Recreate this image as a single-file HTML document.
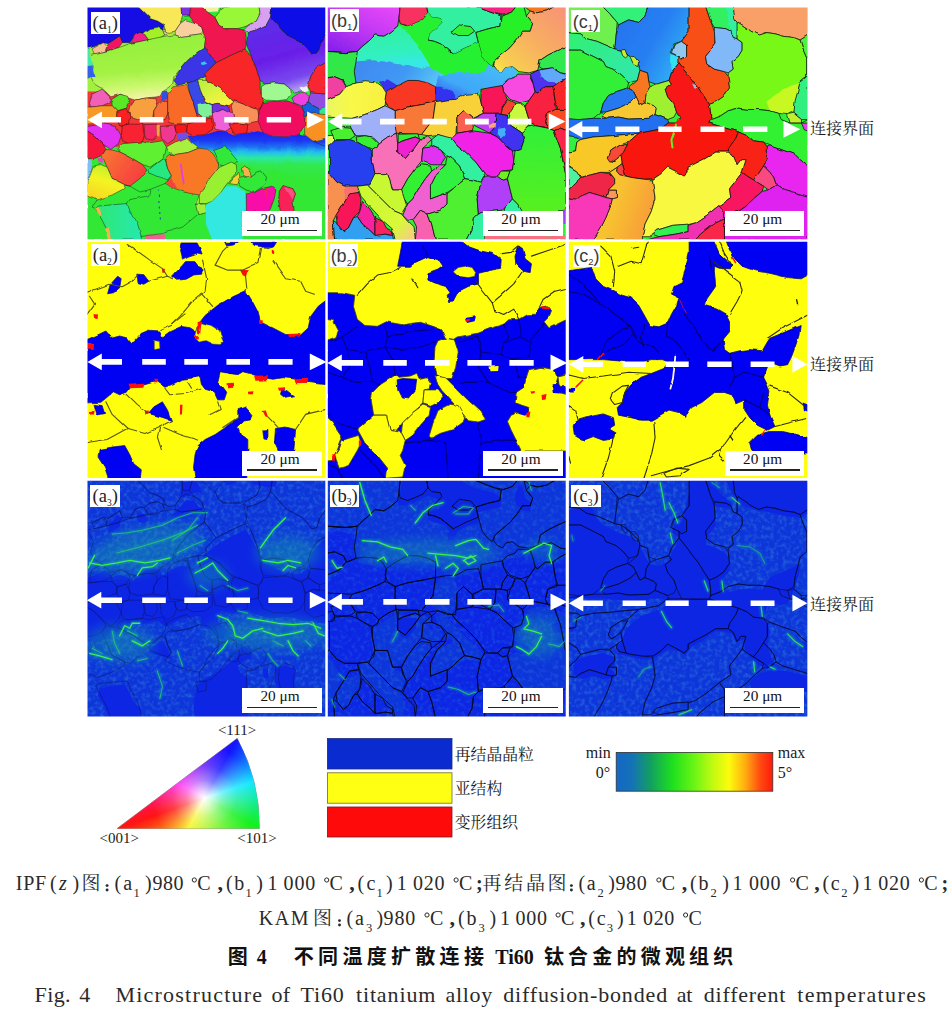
<!DOCTYPE html>
<html lang="zh"><head><meta charset="utf-8"><title>Fig. 4</title>
<style>
html,body{margin:0;padding:0;background:#fff;}
body{width:951px;height:1017px;position:relative;overflow:hidden;font-family:"Liberation Serif",serif;color:#111;}
.p{position:absolute;overflow:hidden;}
.p svg{position:absolute;left:0;top:0;display:block;}
.lb{position:absolute;background:#fff;color:#222;font-size:18.5px;line-height:22px;height:22px;text-align:center;white-space:nowrap;}
.lb sub{font-size:9.5px;vertical-align:baseline;position:relative;top:3.6px;line-height:0;}
.ss{font-family:"Liberation Sans",sans-serif;font-size:18px;color:#3a3a3a;}
.sb{position:absolute;background:#fff;width:79.3px;height:24.8px;box-sizing:border-box;padding-right:4px;font-size:15.3px;line-height:15.4px;text-align:center;color:#111;}
.sb i{position:absolute;left:4.8px;right:4.6px;top:18.7px;height:1.5px;background:#222;}
.t{position:absolute;white-space:nowrap;color:#1a1a1a;}
.ov{position:absolute;left:0;top:0;}
</style></head><body>
<div class="p" style="left:87px;top:6px;width:239px;height:234px"><svg width="239" height="234" viewBox="0 0 951 931" preserveAspectRatio="none"><defs><filter id="bla1" x="-2%" y="-2%" width="104%" height="104%"><feTurbulence type="fractalNoise" baseFrequency="0.022" numOctaves="2" seed="7" result="t"/><feDisplacementMap in="SourceGraphic" in2="t" scale="12" xChannelSelector="R" yChannelSelector="G" result="d"/><feGaussianBlur in="d" stdDeviation="1.5"/></filter><clipPath id="cpa1"><rect x="2.0" y="5.6" width="946.2" height="922.4"/></clipPath></defs><g clip-path="url(#cpa1)"><g filter="url(#bla1)"><defs>
<linearGradient id="a1band" x1="0" x2="0" y1="0" y2="1"><stop offset="0" stop-color="#1c1cf0"/><stop offset="0.2" stop-color="#1a38f2"/><stop offset="0.33" stop-color="#1e70f2"/><stop offset="0.45" stop-color="#22c0ec"/><stop offset="0.56" stop-color="#2ce8a0"/><stop offset="0.7" stop-color="#30e850"/><stop offset="1" stop-color="#30e834"/></linearGradient>
<linearGradient id="a1pur" x1="0.2" x2="0.5" y1="0" y2="1"><stop offset="0" stop-color="#5a30ea"/><stop offset="0.55" stop-color="#6a1ee8"/><stop offset="0.85" stop-color="#7848ee"/><stop offset="1" stop-color="#b098f4"/></linearGradient>
<linearGradient id="a1lg" x1="0" x2="0.15" y1="0" y2="1"><stop offset="0" stop-color="#90f038"/><stop offset="0.6" stop-color="#a4f244"/><stop offset="0.85" stop-color="#ccf870"/><stop offset="1" stop-color="#f0f4a0"/></linearGradient>
<linearGradient id="a1yl" x1="0.6" x2="0.2" y1="0" y2="1"><stop offset="0" stop-color="#b8f030"/><stop offset="0.45" stop-color="#f4f420"/><stop offset="1" stop-color="#f8d420"/></linearGradient>
<linearGradient id="a1or" x1="0" x2="1" y1="0" y2="0.6"><stop offset="0" stop-color="#f87a30"/><stop offset="1" stop-color="#f83c40"/></linearGradient>
<linearGradient id="a1yg" x1="0" x2="0.4" y1="0" y2="1"><stop offset="0" stop-color="#b8f040"/><stop offset="1" stop-color="#f4f440"/></linearGradient>
<linearGradient id="a1tl" x1="0" x2="1" y1="0" y2="0"><stop offset="0" stop-color="#30e870"/><stop offset="1" stop-color="#26e8b0"/></linearGradient>
</defs>
<rect width="951" height="931" fill="#30e834"/>
<rect x="0" y="330" width="700" height="230" fill="#f03838"/>
<rect x="0" y="100" width="480" height="240" fill="#a0f040"/>
<g stroke="#101010" stroke-opacity="0.6" stroke-width="3" stroke-linejoin="round">
<path fill="#1410e4" d="M0 0 L200 0 L221 20 L251 50 L281 60 L306 75 L301 95 L281 85 L251 90 L226 108 L211 105 L191 115 L171 146 L141 146 L130 120 L85 150 L65 146 L30 161 L0 170Z"/>
<path fill="#f8e858" d="M200 0 L378 0 L381 40 L371 70 L351 100 L326 105 L311 95 L306 75 L281 60 L251 50 L221 20Z"/>
<path fill="#8030e0" d="M378 0 L420 0 L407 40 L381 40Z"/>
<path fill="#f8d0a0" d="M351 100 L371 70 L392 55 L427 65 L457 85 L462 105 L452 115 L376 125 L351 115Z"/>
<path fill="#f8c090" d="M20 171 L65 146 L80 161 L70 181 L30 191Z"/>
<path fill="#f01860" d="M80 161 L85 150 L130 120 L141 146 L125 166 L75 180Z"/>
<path fill="#f0208a" d="M176 143 L191 115 L211 105 L226 108 L246 135 L170 150Z"/>
<path fill="#a4f028" d="M226 108 L251 90 L281 85 L301 95 L309 115 L281 133 L246 135Z"/>
<path fill="#f8d0a0" d="M301 95 L311 95 L322 104 L309 115Z"/>
<path fill="url(#a1lg)" d="M0 196 L30 190 L75 180 L125 166 L170 150 L240 135 L310 120 L350 115 L376 125 L452 115 L472 130 L467 165 L437 186 L400 216 L371 251 L346 281 L341 311 L321 326 L296 341 L281 361 L236 366 L190 374 L165 366 L135 351 L95 361 L65 331 L30 311 L15 281 L25 241 L15 221Z"/>
<path fill="#40e8b0" stroke="none" d="M0 168 L10 170 L16 200 L24 236 L8 240 L0 240Z"/>
<path fill="#3060e8" stroke="none" d="M0 240 L22 236 L26 260 L34 282 L16 282 L0 290Z"/>
<path fill="#98f838" d="M509 45 L539 10 L560 0 L684 0 L689 30 L674 60 L639 80 L599 90 L544 90 L524 75Z"/>
<path fill="#f0f0a0" stroke="none" d="M452 0 L540 0 L520 22 L480 24Z"/>
<path fill="#d8a0f0" d="M684 0 L737 0 L730 45 L714 75 L674 95 L639 105 L624 95 L639 80 L674 60 L689 30Z"/>
<path fill="#f01850" d="M420 0 L452 0 L480 24 L509 45 L524 75 L544 90 L599 90 L624 95 L634 151 L629 171 L574 196 L514 226 L494 201 L480 180 L467 165 L472 130 L462 105 L457 85 L427 65 L407 40Z"/>
<path fill="url(#a1pur)" d="M639 105 L674 95 L714 75 L730 45 L755 70 L775 95 L795 115 L825 130 L855 146 L875 166 L895 191 L915 186 L925 150 L951 115 L951 221 L915 241 L890 281 L880 321 L855 341 L825 346 L805 326 L785 311 L745 306 L709 311 L689 301 L674 251 L654 201 L634 151Z"/>
<path fill="#0c0ce8" d="M737 0 L951 0 L951 115 L925 150 L915 186 L895 191 L875 166 L855 146 L825 130 L795 115 L775 95 L755 70 L730 45Z"/>
<path fill="#f82830" d="M951 221 L951 351 L890 346 L880 321 L890 281 L915 241Z"/>
<path fill="#f0f0f8" stroke="none" d="M846 328 L876 318 L882 338 L856 346Z"/>
<path fill="#3a34e6" d="M346 296 L371 251 L402 216 L437 186 L467 166 L480 180 L494 201 L514 226 L473 266 L473 280 L440 296 L400 306 L360 316Z"/>
<path fill="#30c8f0" stroke="none" d="M452 226 L470 220 L474 230 L458 236Z"/>
<path fill="#f82828" d="M473 266 L514 226 L574 196 L629 171 L654 201 L674 251 L689 301 L689 341 L702 377 L694 402 L679 412 L639 397 L599 382 L574 372 L534 331 L504 311 L473 296Z"/>
<path fill="#a0f890" d="M694 321 L709 311 L745 306 L785 311 L805 326 L810 351 L795 372 L755 377 L709 374 L694 361Z"/>
<path fill="#f040e0" d="M815 366 L835 351 L870 346 L885 361 L880 382 L855 397 L825 387Z"/>
<path fill="#9050e0" d="M885 361 L890 346 L951 351 L951 402 L925 410 L900 396 L880 382Z"/>
<path fill="#1860e0" d="M855 397 L880 382 L900 396 L925 410 L925 435 L900 428 L868 442Z"/>
<path fill="#30e890" stroke="none" d="M925 410 L951 402 L951 432 L925 435Z"/>
<path fill="#f060b8" d="M10 387 L20 351 L60 331 L90 361 L93 382 L60 397 L15 402Z"/>
<path fill="#58e828" d="M98 372 L131 351 L161 359 L171 382 L156 407 L120 417 L100 397Z"/>
<path fill="#f89828" d="M0 402 L15 402 L60 397 L100 397 L120 417 L118 442 L60 465 L0 470Z"/>
<path fill="#f82020" d="M118 420 L156 407 L166 430 L171 442 L165 470 L135 480 L118 442Z"/>
<path fill="#f8a040" d="M166 417 L171 397 L191 374 L236 366 L274 369 L281 392 L266 417 L261 447 L201 452 L171 442Z"/>
<path fill="#f87030" d="M281 392 L301 374 L321 382 L321 427 L311 452 L266 447 L266 417Z"/>
<path fill="#3050e0" stroke="none" d="M291 340 L318 336 L321 368 L301 374Z"/>
<path fill="#f86a28" d="M321 351 L346 321 L397 314 L407 341 L422 382 L437 432 L432 465 L380 470 L331 465 L321 427 L321 382Z"/>
<path fill="#3848e8" d="M400 306 L440 296 L452 336 L470 378 L498 392 L498 440 L460 442 L437 432 L422 382 L407 341Z"/>
<path fill="url(#a1yg)" d="M440 296 L473 296 L504 311 L534 331 L574 372 L584 382 L564 397 L524 387 L498 392 L470 378 L452 336Z"/>
<path fill="#80f098" stroke="none" d="M440 390 L470 384 L498 396 L498 440 L460 442 L444 432Z"/>
<path fill="#7030e0" d="M498 392 L524 387 L564 397 L569 432 L540 412 L498 430Z"/>
<path fill="#f89058" d="M574 402 L584 382 L599 382 L639 397 L679 412 L684 440 L680 462 L640 470 L600 465 L582 440Z"/>
<path fill="#f01060" d="M684 417 L702 382 L755 379 L795 377 L825 387 L855 402 L868 442 L866 475 L846 506 L800 521 L740 519 L700 502 L680 462Z"/>
<path fill="#f89020" d="M868 442 L900 428 L951 432 L951 526 L900 538 L866 512 L866 475Z"/>
<path fill="#e030f0" d="M0 480 L60 468 L115 480 L136 516 L126 546 L95 571 L65 551 L30 516 L0 496Z"/>
<path fill="#f82030" d="M141 475 L165 470 L221 470 L228 516 L221 541 L166 548 L141 536 L136 516Z"/>
<path fill="#f02868" d="M226 472 L276 470 L280 512 L262 534 L232 528Z"/>
<path fill="#f8a040" stroke="none" d="M276 474 L290 472 L288 520 L278 516Z"/>
<path fill="#f03890" d="M291 480 L346 473 L356 506 L346 531 L321 548 L296 526Z"/>
<path fill="#f81818" d="M350 475 L380 470 L400 480 L396 506 L366 512 L354 500Z"/>
<path fill="#f82020" d="M400 470 L440 456 L496 446 L500 490 L470 512 L420 516 L396 502Z"/>
<path fill="#f060d8" d="M498 430 L540 412 L582 432 L584 476 L552 498 L510 490Z"/>
<path fill="#f82020" d="M565 472 L600 465 L640 470 L636 505 L590 512Z"/>
<path fill="#7050e8" stroke="none" d="M356 506 L397 502 L400 524 L362 534Z"/>
<path fill="url(#a1band)" stroke="none" d="M400 516 L420 516 L470 512 L520 496 L552 498 L590 512 L636 505 L680 498 L700 502 L740 519 L800 521 L846 506 L866 512 L900 538 L951 526 L951 690 L880 690 L800 670 L740 650 L700 665 L650 640 L600 620 L560 604 L520 588 L480 570 L444 566 L417 546Z"/>
<path fill="#f81838" d="M0 496 L30 516 L65 551 L75 571 L55 596 L20 611 L0 611Z"/>
<path fill="#60f030" d="M120 566 L141 548 L221 541 L241 546 L301 536 L316 561 L311 586 L296 611 L251 641 L221 631 L171 601 L131 581Z"/>
<path fill="#a8f040" d="M316 561 L351 541 L397 526 L417 546 L444 566 L402 583 L351 591 L326 581Z"/>
<path fill="url(#a1or)" d="M60 596 L75 571 L100 573 L131 581 L171 601 L221 631 L241 656 L211 686 L171 717 L151 712 L100 686 L80 641Z"/>
<path fill="#28e880" d="M246 651 L296 611 L311 616 L321 646 L336 676 L321 691 L286 681 L251 666Z"/>
<path fill="#f87828" d="M311 606 L326 591 L351 591 L402 583 L444 566 L480 570 L504 590 L524 631 L520 660 L498 700 L467 727 L447 752 L402 744 L351 727 L311 706 L336 676 L321 646Z"/>
<path fill="#f84040" stroke="none" d="M316 700 L336 682 L356 726 L330 716Z"/>
<path fill="#80c0f0" stroke="none" d="M0 616 L14 618 L20 650 L10 690 L0 690Z"/>
<path fill="url(#a1yl)" d="M10 676 L25 636 L55 631 L80 641 L100 686 L151 712 L146 727 L100 752 L40 772 L0 756 L0 690Z"/>
<path fill="#f040c0" stroke="none" d="M42 606 L62 604 L64 624 L46 626Z"/>
<path fill="#30e838" d="M504 571 L549 556 L574 586 L599 616 L589 626 L544 636 L524 631 L519 596Z"/>
<path fill="#98f030" d="M473 706 L504 666 L529 641 L574 621 L594 631 L596 661 L574 686 L554 711 L529 747 L498 777 L473 787 L447 786 L447 752 L467 727Z"/>
<path fill="#a0f038" d="M432 790 L473 787 L476 822 L442 830Z"/>
<path fill="#f8d030" d="M564 706 L584 681 L604 666 L609 686 L594 711Z"/>
<path fill="#f8b048" d="M614 646 L629 636 L649 661 L654 676 L644 686 L619 671Z"/>
<path fill="#30e838" d="M604 686 L654 676 L674 661 L694 656 L714 681 L709 706 L694 722 L664 742 L634 732 L609 717 L599 701Z"/>
<path fill="#30e8e0" stroke="none" d="M473 792 L498 777 L529 747 L554 717 L594 717 L629 737 L634 812 L619 817 L619 931 L498 931 L473 867Z"/>
<path fill="#f810a8" d="M634 747 L664 744 L694 727 L735 717 L752 732 L745 767 L730 807 L720 820 L634 820Z"/>
<path fill="#f82058" d="M765 737 L780 714 L820 727 L830 747 L820 777 L825 820 L770 820 L762 777Z"/>
<path fill="#f85080" stroke="none" d="M784 718 L818 730 L826 748 L818 770 L800 740Z"/>
<path fill="url(#a1tl)" d="M35 806 L50 796 L100 791 L161 786 L171 816 L201 866 L216 917 L216 931 L95 931 L80 892 L60 852 L45 826Z"/>
<path fill="#f8b050" stroke="none" d="M35 806 L50 800 L58 834 L46 836Z M72 886 L86 880 L96 926 L82 926Z"/>
<path fill="#a0f038" d="M430 782 L444 786 L447 752 L467 727Z" stroke="none"/>
<path fill="#f06090" stroke="none" d="M236 910 L311 908 L311 931 L236 931Z"/>
</g>
<path fill="none" stroke="#e040e0" stroke-width="7" stroke-linecap="round" stroke-linejoin="round" d="M374 634 L378 670 L386 708"/>
<path fill="#f82060" d="M704 728 L722 722 L716 760Z"/>
<path fill="none" stroke="#2040c0" stroke-width="4" stroke-dasharray="8 14" d="M282 732 L292 850"/>
<g fill="none" stroke="#101010" stroke-opacity="0.55" stroke-width="3" stroke-linecap="round" stroke-linejoin="round">
<path d="M151 712 L171 717 L211 740 L251 730 L311 706"/><path d="M161 786 L171 770 L246 755 L251 730"/><path d="M216 917 L300 905 L380 880 L440 830"/><path d="M40 772 L20 800 L35 806"/>
<path d="M447 752 L432 790"/><path d="M900 538 L951 560"/>
</g>
</g></g></svg></div>
<div class="p" style="left:327px;top:6px;width:240px;height:234px"><svg width="240" height="234" viewBox="0 0 951 927" preserveAspectRatio="none"><defs><filter id="blb1" x="-2%" y="-2%" width="104%" height="104%"><feTurbulence type="fractalNoise" baseFrequency="0.022" numOctaves="2" seed="7" result="t"/><feDisplacementMap in="SourceGraphic" in2="t" scale="12" xChannelSelector="R" yChannelSelector="G" result="d"/><feGaussianBlur in="d" stdDeviation="1.5"/></filter><clipPath id="cpb1"><rect x="3.2" y="5.5" width="942.7" height="918.5"/></clipPath></defs><g clip-path="url(#cpb1)"><g filter="url(#blb1)"><defs>
<linearGradient id="b1pu" x1="0.9" x2="0.1" y1="0" y2="1"><stop offset="0" stop-color="#e848f8"/><stop offset="0.5" stop-color="#c038f4"/><stop offset="1" stop-color="#8420ea"/></linearGradient>
<linearGradient id="b1mt" x1="0" x2="0.2" y1="0" y2="1"><stop offset="0" stop-color="#30f098"/><stop offset="0.7" stop-color="#30f0c0"/><stop offset="1" stop-color="#38e8e8"/></linearGradient>
<linearGradient id="b1sk" x1="0" x2="1" y1="0" y2="0.3"><stop offset="0" stop-color="#4088f0"/><stop offset="0.6" stop-color="#4098f4"/><stop offset="1" stop-color="#58c8f8"/></linearGradient>
<linearGradient id="b1pe" x1="1" x2="0" y1="0" y2="1"><stop offset="0" stop-color="#f89078"/><stop offset="0.5" stop-color="#f8b060"/><stop offset="0.85" stop-color="#f8d050"/><stop offset="1" stop-color="#f8f040"/></linearGradient>
<linearGradient id="b1gc" x1="0" x2="0" y1="0" y2="1"><stop offset="0" stop-color="#28f038"/><stop offset="0.6" stop-color="#30f060"/><stop offset="1" stop-color="#38e0d0"/></linearGradient>
<linearGradient id="b1sb" x1="0" x2="1" y1="1" y2="0"><stop offset="0" stop-color="#3050f0"/><stop offset="0.35" stop-color="#40a8f8"/><stop offset="1" stop-color="#48c0f8"/></linearGradient>
<linearGradient id="b1yl" x1="0" x2="1" y1="0" y2="0"><stop offset="0" stop-color="#e8f860"/><stop offset="0.4" stop-color="#f8f848"/><stop offset="1" stop-color="#f8f040"/></linearGradient>
<linearGradient id="b1st" x1="0" x2="1" y1="0" y2="1"><stop offset="0" stop-color="#c8f830"/><stop offset="0.7" stop-color="#d8f838"/><stop offset="1" stop-color="#f8c890"/></linearGradient>
<linearGradient id="b1gr" x1="0" x2="0" y1="0" y2="1"><stop offset="0" stop-color="#30f038"/><stop offset="1" stop-color="#58f020"/></linearGradient>
</defs>
<rect width="951" height="927" fill="#30f038"/>
<g stroke="#0c0c0c" stroke-opacity="0.85" stroke-width="3.6" stroke-linejoin="round">
<path fill="url(#b1pu)" d="M0 0 L290 0 L285 50 L280 80 L250 105 L225 120 L190 115 L165 140 L140 160 L120 180 L75 185 L0 180Z"/>
<path fill="#f83060" d="M290 0 L395 0 L400 30 L380 55 L345 70 L320 80 L290 70 L285 50Z"/>
<path fill="#30f0a0" d="M395 0 L585 0 L635 20 L690 40 L685 80 L640 90 L590 105 L600 145 L550 165 L500 190 L476 170 L450 150 L425 140 L400 135 L405 115 L435 85 L455 65 L450 50 L415 45 L400 30Z"/>
<path fill="#30f030" d="M495 102 L525 75 L570 82 L585 100 L560 117 L520 117Z"/>
<path fill="#f82080" d="M585 0 L755 0 L735 25 L700 37 L665 30 L635 20Z"/>
<path fill="#28f028" d="M690 40 L700 37 L735 25 L755 0 L780 0 L790 40 L815 70 L805 100 L775 100 L755 130 L725 165 L695 190 L665 215 L655 240 L640 230 L615 200 L600 145 L590 105 L640 90 L685 80Z"/>
<path fill="#f87820" d="M780 0 L905 0 L870 20 L835 27 L805 20Z"/>
<path fill="url(#b1pe)" d="M790 40 L805 20 L835 27 L870 20 L905 0 L951 0 L951 160 L915 175 L875 195 L845 215 L835 255 L800 265 L760 260 L735 240 L710 245 L695 265 L675 255 L660 235 L665 215 L695 190 L725 165 L755 130 L775 100 L805 100 L815 70Z"/>
<path fill="#30e850" d="M951 160 L915 175 L875 195 L845 215 L840 240 L855 250 L890 245 L925 265 L951 270Z"/>
<path fill="#28f030" stroke="none" d="M280 80 L320 80 L345 70 L380 55 L400 30 L415 45 L450 50 L455 65 L435 85 L405 115 L400 135 L425 140 L450 150 L476 170 L500 190 L550 165 L600 145 L615 200 L640 230 L625 262 L575 272 L525 262 L476 280 L440 260 L410 240 L380 190 L350 140 L320 100Z"/>
<path fill="url(#b1mt)" stroke="none" d="M120 180 L140 160 L165 140 L190 115 L225 120 L250 105 L280 80 L320 100 L350 140 L380 190 L410 240 L375 250 L325 235 L275 230 L225 220 L175 215 L115 220Z"/>
<path fill="url(#b1sk)" stroke="none" d="M115 220 L175 215 L225 220 L275 230 L325 235 L375 250 L410 240 L440 260 L476 280 L476 355 L450 322 L430 320 L400 305 L360 295 L320 295 L280 315 L240 290 L205 300 L150 300 L115 305 L108 260Z"/>
<path fill="url(#b1sb)" stroke="none" d="M470 272 L525 260 L575 270 L625 260 L640 230 L655 240 L675 255 L695 265 L710 245 L735 240 L755 260 L745 285 L715 295 L695 315 L665 320 L615 325 L600 345 L550 350 L515 370 L475 355 L430 320 L440 280Z"/>
<path fill="#3830f0" stroke="none" d="M205 300 L240 290 L280 315 L235 345 L220 320Z"/>
<path fill="#3030f0" stroke="none" d="M430 320 L450 320 L476 330 L500 340 L515 370 L476 372 L430 380Z"/>
<path fill="none" d="M0 180 L75 185 L120 180 L140 160 L165 140 L190 115 L225 120 L250 105 L280 80"/>
<path fill="none" d="M400 135 L425 140 L450 150 L476 170 L500 190"/>
<path fill="#30e848" d="M0 180 L75 185 L120 180 L115 220 L108 260 L115 305 L80 320 L65 295 L30 280 L0 285Z"/>
<path fill="#f040a0" d="M0 285 L30 280 L65 295 L75 320 L50 350 L0 370Z"/>
<path fill="url(#b1yl)" d="M0 370 L50 350 L75 320 L115 305 L150 300 L200 305 L220 320 L235 345 L230 395 L200 410 L150 430 L100 445 L0 440Z"/>
<path fill="#f83820" d="M235 345 L280 315 L320 295 L360 295 L400 305 L430 320 L430 380 L380 390 L320 400 L270 415 L240 395 L230 370Z"/>
<path fill="#f87838" d="M270 415 L320 400 L380 390 L430 380 L425 415 L420 450 L375 509 L272 504 L270 465Z"/>
<path fill="#a0b0f8" d="M100 445 L150 430 L200 410 L230 395 L270 415 L270 474 L275 504 L240 519 L205 544 L180 519 L150 514 L115 514 L95 484 L90 460Z"/>
<path fill="#f8d038" d="M430 380 L476 372 L515 370 L550 350 L600 345 L610 380 L620 425 L575 445 L540 415 L515 440 L510 524 L476 524 L440 509 L400 514 L375 509 L420 450 L425 415Z"/>
<path fill="#f86050" d="M515 440 L540 415 L575 445 L580 480 L575 494 L515 504Z"/>
<path fill="#f848e0" d="M695 315 L715 295 L745 285 L755 270 L800 270 L815 300 L825 340 L800 375 L765 385 L725 370 L700 340Z"/>
<path fill="#5030f0" d="M805 270 L835 255 L855 250 L890 245 L925 265 L951 270 L951 285 L915 305 L895 320 L865 320 L835 345 L825 340 L815 300Z"/>
<path fill="#60a8f8" stroke="none" d="M842 256 L890 247 L925 267 L949 272 L949 284 L915 303 L880 300 L850 280Z"/>
<path fill="#f81858" d="M610 330 L665 320 L695 315 L700 340 L715 370 L695 400 L690 425 L620 425 L610 380Z"/>
<path fill="#f84030" d="M715 370 L745 385 L735 415 L715 430 L690 425 L695 400Z"/>
<path fill="#c8f840" d="M725 430 L745 385 L765 385 L785 400 L805 465 L800 479 L775 504 L745 484 L715 465Z"/>
<path fill="#f82040" d="M800 375 L825 340 L835 345 L865 320 L895 320 L905 380 L910 415 L875 425 L865 465 L875 484 L825 474 L805 465 L785 400Z"/>
<path fill="#f82828" d="M895 320 L915 305 L951 285 L951 410 L915 410 L905 380Z"/>
<path fill="#f84820" d="M905 410 L951 410 L951 494 L925 484 L900 494 L875 484 L865 465 L875 425Z"/>
<path fill="#c040f0" d="M585 474 L580 445 L620 425 L670 425 L665 479 L645 504Z"/>
<path fill="#4030f0" d="M645 504 L665 479 L670 425 L690 425 L715 430 L715 465 L745 484 L775 504 L780 534 L770 564 L745 574 L735 574 L700 544 L675 519Z"/>
<path fill="#40b0f8" stroke="none" d="M678 486 L706 482 L712 510 L692 524 L676 508Z"/>
<path fill="#f8a878" stroke="none" d="M640 470 L670 466 L668 484 L644 486Z"/>
<path fill="#48f030" d="M15 494 L55 481 L95 484 L112 514 L90 529 L30 529Z"/>
<path fill="#e8f860" d="M0 514 L22 512 L30 529 L28 549 L0 552Z"/>
<path fill="#38f030" d="M115 519 L150 514 L180 519 L205 544 L200 559 L180 571 L145 554 L120 539Z"/>
<path fill="#2840f0" d="M10 554 L30 534 L90 529 L120 539 L145 554 L175 574 L180 614 L190 664 L185 689 L160 709 L120 714 L70 714 L40 699 L10 664Z"/>
<path fill="#f870b8" d="M180 571 L200 559 L205 544 L240 519 L275 504 L280 544 L280 584 L310 604 L345 564 L370 529 L400 514 L415 529 L380 559 L375 614 L350 644 L320 684 L295 729 L260 729 L240 664 L190 664 L180 614Z"/>
<path fill="#30f030" d="M282 508 L360 506 L366 526 L350 519 L300 534 L282 544Z"/>
<path fill="#f020d0" d="M280 544 L300 534 L350 519 L370 529 L345 564 L310 604 L280 584Z"/>
<path fill="#e030f0" d="M380 559 L415 554 L450 569 L470 599 L450 629 L415 629 L375 614Z"/>
<path fill="#30f0a0" stroke="none" d="M415 529 L440 509 L476 519 L495 524 L515 549 L476 594 L450 569 L415 554Z"/><path fill="none" d="M415 554 L415 529 L440 509 L476 519 L495 524 M415 554 L450 569 L476 594"/>
<path fill="#30f0a0" stroke="none" d="M470 525 L495 524 L515 549 L550 579 L590 619 L620 659 L625 674 L610 699 L575 689 L545 684 L525 634 L495 604 L470 590Z"/><path fill="none" d="M495 524 L515 549 L550 579 L590 619 L620 659 L625 674 L610 699 L575 689 L545 684 L525 634 L495 604 L476 594"/>
<path fill="#f020e8" d="M495 524 L515 504 L575 494 L645 504 L675 519 L700 544 L735 574 L740 614 L735 649 L695 654 L675 674 L640 674 L620 659 L590 619 L550 579 L515 549Z"/>
<path fill="#30f030" d="M295 729 L320 684 L350 644 L375 629 L410 634 L415 654 L390 684 L360 729 L340 764 L320 784 L300 759Z"/>
<path fill="#f060d0" d="M415 654 L450 629 L470 629 L435 664 L410 714 L410 764 L476 739 L476 784 L450 809 L400 824 L370 809 L340 849 L320 849 L300 829 L320 784 L340 764 L360 729 L390 684Z"/>
<path fill="#30f040" d="M435 664 L470 629 L476 594 L495 604 L525 634 L545 684 L525 699 L500 724 L476 739 L410 764 L410 714Z"/>
<path fill="#c8f830" d="M165 714 L190 664 L240 664 L260 729 L295 729 L315 789 L295 824 L260 809 L220 769 L185 734Z"/>
<path fill="url(#b1st)" d="M120 714 L160 709 L185 734 L220 769 L260 809 L295 824 L320 854 L345 879 L350 927 L270 927 L260 884 L220 849 L170 794 L135 754Z"/>
<path fill="#f89050" d="M0 664 L10 664 L40 699 L70 714 L120 714 L125 739 L90 744 L65 784 L40 824 L25 854 L30 927 L0 927Z"/>
<path fill="#f87070" stroke="none" d="M72 716 L120 716 L124 738 L90 742 L70 770Z"/>
<path fill="#f81858" d="M65 784 L90 744 L125 739 L135 764 L130 814 L105 839 L85 879 L65 894 L40 864 L35 829Z"/>
<path fill="#f820a0" d="M130 814 L140 774 L170 804 L190 834 L190 909 L165 884 L140 864 L120 834Z"/>
<path fill="#f82060" d="M190 834 L220 849 L235 879 L260 894 L260 909 L230 904 L210 909 L190 909Z"/>
<path fill="#30a0f0" d="M25 854 L40 864 L65 894 L85 879 L105 839 L120 834 L140 864 L165 884 L190 909 L230 904 L260 909 L264 927 L30 927Z"/>
<path fill="#f860b0" d="M340 849 L370 809 L400 824 L415 864 L430 927 L350 927 L355 879Z"/>
<path fill="#50f030" d="M400 824 L450 809 L476 784 L476 744 L500 724 L525 699 L545 684 L575 689 L610 699 L595 764 L600 824 L580 844 L575 889 L555 927 L430 927 L415 864Z"/>
<path fill="#30f0a0" d="M600 824 L625 814 L625 927 L555 927 L575 889 L580 844Z"/>
<path fill="#b040f8" d="M610 699 L625 674 L640 674 L675 674 L695 689 L715 684 L725 724 L735 764 L715 789 L695 809 L625 814 L600 824 L595 764Z"/>
<path fill="#70f020" d="M675 674 L695 654 L725 654 L715 684 L695 689Z"/>
<path fill="#30f0a0" d="M705 800 L735 764 L755 784 L775 809 L775 820 L700 820Z"/>
<path fill="url(#b1gr)" d="M775 504 L800 479 L825 474 L875 484 L900 494 L910 524 L925 564 L935 614 L945 664 L945 815 L775 815 L755 784 L735 764 L725 724 L715 684 L725 654 L735 649 L740 614 L745 574 L770 564 L780 534Z"/>
<path fill="#f82848" d="M900 494 L925 484 L951 494 L951 664 L945 664 L935 614 L925 564 L910 524Z"/>
<path fill="#a040f0" stroke="none" d="M936 810 L951 808 L951 864 L938 864Z"/>
<path fill="#f87080" stroke="none" d="M625 908 L951 908 L951 927 L625 927Z"/>
</g>
</g></g></svg></div>
<div class="p" style="left:568px;top:6px;width:240px;height:234px"><svg width="240" height="234" viewBox="0 0 951 927" preserveAspectRatio="none"><defs><filter id="blc1" x="-2%" y="-2%" width="104%" height="104%"><feTurbulence type="fractalNoise" baseFrequency="0.022" numOctaves="2" seed="7" result="t"/><feDisplacementMap in="SourceGraphic" in2="t" scale="12" xChannelSelector="R" yChannelSelector="G" result="d"/><feGaussianBlur in="d" stdDeviation="1.5"/></filter><clipPath id="cpc1"><rect x="3.6" y="5.5" width="944.7" height="918.5"/></clipPath></defs><g clip-path="url(#cpc1)"><g filter="url(#blc1)"><defs>
<linearGradient id="c1bl" x1="0" x2="1" y1="0" y2="0.6"><stop offset="0" stop-color="#2470f0"/><stop offset="0.6" stop-color="#2880f2"/><stop offset="1" stop-color="#30b0f4"/></linearGradient>
<linearGradient id="c1oy" x1="0" x2="1" y1="0" y2="0.4"><stop offset="0" stop-color="#f8cc28"/><stop offset="0.5" stop-color="#f8c030"/><stop offset="1" stop-color="#f8a038"/></linearGradient>
<linearGradient id="c1mt" x1="0" x2="1" y1="0" y2="0.6"><stop offset="0" stop-color="#30f070"/><stop offset="1" stop-color="#30e8a8"/></linearGradient>
</defs>
<rect width="951" height="927" fill="#30f038"/>
<g stroke="#0c0c0c" stroke-opacity="0.85" stroke-width="3.4" stroke-linejoin="round">
<path fill="#70f050" d="M0 0 L135 0 L165 30 L195 65 L190 125 L185 170 L150 155 L115 140 L75 130 L45 110 L0 105Z"/>
<path fill="#30f078" d="M135 0 L318 0 L305 40 L280 65 L240 55 L200 75 L195 65 L165 30Z"/>
<path fill="url(#c1bl)" d="M200 75 L240 55 L280 65 L305 40 L318 0 L480 0 L480 100 L450 140 L420 150 L405 185 L440 200 L440 225 L410 265 L400 295 L350 310 L320 300 L315 265 L285 255 L280 235 L245 200 L210 175 L185 170 L190 125Z"/>
<path fill="#30e0f0" stroke="none" d="M406 190 L438 204 L438 224 L416 252 L404 220Z"/>
<path fill="#90c8f0" d="M410 185 L420 155 L450 140 L470 155 L470 200 L450 210 L440 200Z"/>
<path fill="url(#c1mt)" d="M0 105 L45 110 L75 130 L115 140 L150 155 L185 170 L210 175 L245 200 L280 235 L285 255 L275 295 L240 305 L220 280 L190 255 L150 240 L140 220 L100 200 L50 175 L0 175Z"/>
<path fill="#c8f030" d="M210 175 L225 172 L236 198 L228 206 L216 196Z M245 202 L262 200 L280 222 L276 240 L258 232Z"/>
<path fill="#30f038" d="M0 175 L50 175 L100 200 L140 220 L150 240 L190 255 L220 280 L240 305 L235 325 L190 340 L160 355 L140 385 L130 420 L100 445 L0 460Z"/>
<path fill="#f87820" d="M240 325 L275 295 L285 255 L315 265 L320 300 L325 320 L310 345 L305 380 L285 390 L270 360 L260 340Z"/>
<path fill="#2878f0" d="M130 420 L140 385 L160 355 L190 340 L235 325 L260 340 L270 360 L250 380 L200 405 L150 420Z"/>
<path fill="#f8c830" d="M135 435 L150 420 L200 405 L250 380 L270 360 L285 390 L305 380 L340 395 L350 405 L345 430 L320 445 L240 448 L200 440 L150 445Z"/>
<path fill="#a0f030" d="M310 345 L325 320 L350 310 L400 295 L410 310 L385 330 L395 360 L420 390 L430 420 L420 440 L395 450 L345 430 L350 405 L340 395 L305 380Z"/>
<path fill="#f85018" d="M480 0 L545 0 L565 60 L580 100 L583 150 L565 175 L545 200 L550 230 L580 250 L620 260 L635 280 L640 325 L615 360 L585 380 L560 390 L540 360 L515 320 L490 290 L476 270 L440 225 L440 200 L450 210 L470 200 L470 155 L450 140 L480 100Z"/>
<path fill="#30f060" d="M545 0 L655 0 L660 50 L670 70 L670 130 L655 125 L645 100 L625 90 L580 85 L565 60Z"/>
<path fill="#30f0a0" stroke="none" d="M625 4 L655 4 L660 50 L670 70 L668 126 L656 122 L646 98 L636 60Z"/>
<path fill="#80b8f8" d="M580 85 L625 90 L645 100 L655 125 L670 130 L690 145 L690 175 L675 200 L650 220 L655 250 L635 265 L620 260 L580 250 L550 230 L545 200 L565 175 L583 150 L580 100Z"/>
<path fill="#f8a068" d="M655 0 L951 0 L951 115 L920 135 L895 125 L855 120 L820 110 L785 105 L755 115 L725 100 L705 85 L675 65 L670 70 L660 50Z"/>
<path fill="#78f818" d="M670 70 L675 65 L705 85 L725 100 L755 115 L785 105 L820 110 L855 120 L895 125 L920 135 L930 165 L945 200 L945 280 L920 300 L910 340 L900 375 L895 415 L870 430 L835 425 L800 415 L755 410 L715 410 L675 405 L635 415 L605 435 L565 450 L565 425 L560 390 L585 380 L615 360 L640 325 L635 280 L635 265 L655 250 L650 220 L675 200 L690 175 L690 145 L670 130Z"/>
<path fill="#c8f820" stroke="none" d="M785 380 L825 350 L875 320 L915 305 L910 340 L900 375 L895 415 L870 428 L835 423 L800 413Z"/>
<path fill="#50f040" d="M920 135 L951 115 L951 200 L945 200 L930 165Z"/>
<path fill="#30f080" d="M945 280 L951 280 L951 450 L925 450 L895 425 L900 375 L910 340 L920 300Z"/>
<path fill="#c0f030" d="M870 430 L895 425 L925 450 L925 464 L880 464Z"/>
<path fill="#f81818" d="M440 225 L476 270 L490 290 L515 320 L540 360 L560 390 L565 425 L565 450 L560 464 L480 464 L450 463 L430 420 L420 390 L395 360 L385 330 L410 310 L400 295 L410 265Z"/>
<path fill="#30f030" d="M565 450 L605 435 L635 415 L675 405 L715 410 L755 410 L800 415 L835 425 L845 450 L880 464 L925 464 L951 450 L951 634 L925 614 L900 589 L855 574 L800 554 L775 539 L735 534 L710 514 L675 499 L625 484 L560 464Z"/>
<path fill="#e040f0" d="M925 464 L951 464 L951 496 L936 490Z"/>
<path fill="#2070f0" d="M0 446 L40 450 L100 445 L150 445 L200 440 L240 448 L320 445 L345 430 L395 450 L400 463 L390 466 L360 489 L310 499 L280 504 L175 514 L100 519 L50 529 L35 519 L0 522Z"/>
<path fill="#30f040" d="M0 514 L35 519 L50 529 L35 539 L30 574 L0 579Z"/>
<path fill="#f8c828" d="M50 529 L100 519 L175 514 L280 504 L240 539 L210 549 L170 574 L160 604 L175 619 L210 594 L215 624 L195 639 L165 659 L130 659 L90 669 L50 679 L35 654 L0 629 L0 579 L30 574 L35 539Z"/>
<path fill="#50f0a0" d="M0 634 L35 654 L50 679 L30 704 L0 729Z"/>
<path fill="#f81810" d="M280 504 L310 499 L360 489 L390 466 L400 463 L450 463 L480 464 L560 464 L625 484 L675 499 L665 524 L640 559 L635 579 L585 579 L545 604 L505 624 L476 639 L476 659 L460 674 L425 654 L395 639 L370 664 L340 684 L295 686 L250 679 L230 674 L215 624 L210 594 L235 549 L240 539Z"/>
<path fill="#f81814" stroke="none" d="M436 450 L556 450 L556 478 L410 478Z"/><path fill="#f84838" d="M170 574 L210 549 L235 549 L220 579 L190 609 L170 619 L160 604Z"/>
<path fill="#f84040" d="M195 639 L215 624 L230 674 L205 669 L192 654Z"/>
<path fill="#f82018" d="M675 499 L710 514 L735 534 L775 539 L790 559 L790 609 L775 634 L755 664 L735 689 L710 674 L690 659 L705 609 L685 609 L670 629 L655 594 L635 579 L640 559 L665 524Z"/>
<path fill="#f02848" d="M0 729 L30 704 L50 679 L90 669 L130 659 L165 664 L185 684 L185 704 L160 729 L150 759 L120 749 L85 739 L50 754 L30 769 L0 764Z"/>
<path fill="#f89858" d="M160 729 L192 729 L192 759 L175 764 L150 759Z"/>
<path fill="url(#c1oy)" d="M165 659 L195 639 L192 654 L205 669 L230 674 L250 679 L295 686 L335 689 L340 724 L345 764 L330 814 L305 864 L295 914 L295 927 L100 927 L130 879 L150 839 L170 789 L175 764 L192 759 L192 729 L160 729 L185 704 L185 684Z"/>
<path fill="#f838b8" d="M0 764 L30 769 L50 754 L85 739 L120 749 L150 759 L175 764 L170 789 L150 839 L130 879 L100 927 L0 927Z"/>
<path fill="#f8f840" d="M335 689 L340 684 L370 664 L395 639 L425 654 L460 674 L476 659 L476 639 L505 624 L545 604 L585 579 L635 579 L655 594 L670 629 L685 609 L705 609 L690 659 L675 679 L640 724 L645 759 L600 789 L550 829 L505 859 L476 866 L415 869 L350 889 L330 914 L295 914 L305 864 L330 814 L345 764 L340 724Z"/>
<path fill="#30f050" d="M335 904 L350 889 L415 869 L476 864 L476 894 L425 904 L360 914Z"/>
<path fill="#e828f0" d="M790 559 L800 554 L855 574 L900 589 L925 614 L951 634 L951 754 L900 739 L850 724 L825 709 L815 679 L800 659 L775 634 L790 609Z"/>
<path fill="#f84880" d="M735 689 L755 664 L775 634 L800 659 L815 679 L825 709 L795 729 L775 714Z"/>
<path fill="#f81860" d="M640 724 L675 679 L690 659 L710 674 L735 689 L775 714 L770 734 L735 764 L705 794 L675 814 L620 820 L600 789 L645 759Z"/>
<path fill="#e020f0" d="M675 814 L705 794 L735 764 L770 734 L795 729 L825 709 L850 724 L900 739 L951 754 L951 927 L620 927 L620 820Z"/>
<path fill="#f030b0" d="M476 869 L505 859 L550 829 L600 789 L620 814 L620 844 L575 864 L525 904 L505 927 L310 927 L360 914 L425 904 L476 894Z"/>
<path fill="#f82848" d="M525 904 L575 864 L620 844 L620 927 L505 927Z"/>
</g>
<path fill="none" stroke="#60f020" stroke-width="8" stroke-linecap="round" stroke-linejoin="round" d="M428 470 L420 500 L410 530 L414 562"/>
<path fill="#90c0e0" stroke="none" d="M492 308 L506 312 L514 330 L500 326Z"/>
</g></g></svg></div>
<div class="p" style="left:87px;top:241px;width:239px;height:238px"><svg width="239" height="238" viewBox="0 0 951 947" preserveAspectRatio="none"><defs><filter id="bla2" x="-2%" y="-2%" width="104%" height="104%"><feTurbulence type="fractalNoise" baseFrequency="0.022" numOctaves="2" seed="7" result="t"/><feDisplacementMap in="SourceGraphic" in2="t" scale="12" xChannelSelector="R" yChannelSelector="G" result="d"/><feGaussianBlur in="d" stdDeviation="1.5"/></filter><clipPath id="cpa2"><rect x="2.0" y="2.8" width="946.2" height="939.9"/></clipPath></defs><g clip-path="url(#cpa2)"><g filter="url(#bla2)"><rect width="951" height="947" fill="#ffff0a"/>
<g id="a2B" fill="#0404f2" stroke="#0a0a90" stroke-width="3" stroke-linejoin="round">
<path d="M378 8 L438 8 L450 30 L458 52 L440 48 L405 60 L380 72 L372 40Z"/>
<path d="M392 82 L425 82 L442 104 L462 114 L456 132 L425 135 L395 152 L360 156 L340 140 L362 116 L380 96Z"/>
<path d="M548 5 L602 5 L582 16 L556 20Z"/>
<path d="M652 5 L758 5 L746 24 L722 30 L690 22 L666 18Z"/>
<path d="M122 140 L136 150 L130 186 L106 206 L82 210 L92 174Z"/>
<path d="M198 132 L226 134 L246 160 L226 172 L204 166Z"/>
<path d="M0 392 L40 375 L75 358 L100 386 L130 378 L160 386 L176 408 L196 388 L215 368 L245 355 L290 358 L300 382 L330 360 L375 340 L410 345 L436 362 L450 322 L470 296 L520 256 L580 222 L632 198 L655 235 L680 282 L690 322 L740 346 L790 372 L850 374 L880 346 L890 300 L920 260 L951 236 L951 572 L900 566 L860 560 L820 548 L780 544 L740 550 L710 545 L680 538 L650 528 L620 520 L600 532 L560 526 L530 520 L520 560 L540 580 L556 602 L546 632 L520 632 L505 600 L470 590 L455 570 L450 540 L420 545 L380 550 L340 570 L310 582 L280 560 L250 566 L215 576 L175 580 L160 602 L130 612 L105 600 L75 626 L55 642 L0 644Z"/>
<path d="M300 640 L320 672 L336 714 L300 702 L244 686 L266 660Z"/>
<path d="M28 650 L60 655 L70 686 L40 692Z"/>
<path d="M48 830 L100 820 L150 814 L170 850 L186 886 L216 910 L212 947 L86 947 L70 900 L44 860Z"/>
<path d="M430 947 L424 900 L430 850 L440 816 L470 790 L510 770 L545 746 L575 722 L600 702 L600 672 L630 660 L656 690 L650 712 L626 716 L600 740 L610 766 L640 790 L640 947Z"/>
<path d="M750 746 L790 740 L830 750 L826 800 L820 860 L800 872 L770 850 L746 800Z"/>
<path d="M700 752 L720 750 L720 790 L704 788Z"/>
<path d="M775 590 L800 600 L826 620 L790 626 L770 610Z"/>
</g>
<g fill="#ffff0a" stroke="#5a5a10" stroke-width="2">
<path d="M446 322 L470 330 L500 340 L530 360 L546 396 L530 412 L500 410 L470 396 L446 402 L430 386 L440 352Z"/>
<path d="M268 396 L288 400 L290 428 L268 432Z"/>
</g>
<g fill="#ff0a0a">
<path d="M608 114 L640 116 L632 142 L620 136Z"/><path d="M0 405 L28 410 L26 434 L0 432Z"/><path d="M26 290 L44 292 L42 310 L28 308Z"/>
<path d="M165 572 L228 568 L224 584 L170 586Z"/><path d="M555 566 L580 564 L582 584 L558 586Z"/><path d="M665 536 L720 534 L716 554 L670 556Z"/>
<path d="M825 546 L880 544 L878 564 L830 566Z"/><path d="M800 370 L850 368 L848 380 L804 382Z"/><path d="M684 314 L700 316 L698 330 L686 330Z"/>
<path d="M695 676 L712 674 L720 700 L706 698Z"/><path d="M230 676 L246 674 L244 692 L232 690Z"/><path d="M370 656 L380 656 L378 690 L370 690Z"/>
<path d="M440 322 L456 320 L450 372 L442 370Z"/><path d="M298 110 L310 110 L308 126 L300 126Z"/><path d="M735 36 L746 36 L744 52 L736 50Z"/>
<path d="M640 600 L662 598 L660 610 L642 610Z"/><path d="M8 676 L30 674 L28 690 L10 690Z"/><path d="M268 548 L282 548 L280 566 L270 566Z"/>
<path d="M760 584 L790 582 L788 594 L764 596Z"/><path d="M430 380 L446 378 L444 392 L432 392Z"/>
</g>
<g id="a2L" fill="none" stroke="#55550c" stroke-width="4.4" stroke-linejoin="round" stroke-linecap="round">
<path d="M160 14 L200 40 L250 76 L300 110 L320 140 L345 150"/><path d="M0 204 L40 190 L88 172 L140 182 L180 160 L200 138"/><path d="M246 160 L320 140"/>
<path d="M460 76 L476 150 L470 200 L420 240 L370 300 L340 330 L290 352"/><path d="M510 96 L540 40 L560 20"/><path d="M510 96 L560 116 L615 116 L680 86 L690 30 L730 26"/>
<path d="M630 132 L636 190 L632 200"/><path d="M740 80 L790 150 L850 160 L870 200 L905 212"/><path d="M456 210 L500 260"/><path d="M340 330 L390 290"/>
<path d="M0 292 L30 250 L10 220"/><path d="M160 610 L200 650 L240 682"/><path d="M75 640 L100 690 L160 746 L230 766 L290 740 L336 714"/>
<path d="M290 740 L280 780 L296 830"/><path d="M306 742 L370 770 L440 792"/><path d="M0 802 L80 790 L160 746"/><path d="M310 586 L330 612 L400 606 L452 590"/>
<path d="M400 560 L416 586"/><path d="M490 690 L530 670 L520 640"/><path d="M720 700 L760 742"/><path d="M830 750 L870 690 L951 670"/><path d="M540 742 L600 702"/>
</g>
</g></g></svg></div>
<div class="p" style="left:327px;top:241px;width:240px;height:238px"><svg width="240" height="238" viewBox="0 0 951 943" preserveAspectRatio="none"><defs><filter id="blb2" x="-2%" y="-2%" width="104%" height="104%"><feTurbulence type="fractalNoise" baseFrequency="0.022" numOctaves="2" seed="7" result="t"/><feDisplacementMap in="SourceGraphic" in2="t" scale="12" xChannelSelector="R" yChannelSelector="G" result="d"/><feGaussianBlur in="d" stdDeviation="1.5"/></filter><clipPath id="cpb2"><rect x="3.2" y="2.8" width="942.7" height="935.9"/></clipPath></defs><g clip-path="url(#cpb2)"><g filter="url(#blb2)"><rect width="951" height="943" fill="#0404f2"/>
<g id="b2Y" fill="#ffff0a" stroke="#3c3c08" stroke-width="3.2" stroke-linejoin="round">
<path d="M-5 -5 L956 -5 L956 308 L900 335 L880 345 L860 320 L880 300 L890 275 L865 258 L840 265 L830 290 L790 292 L760 310 L720 312 L700 330 L650 345 L600 365 L560 372 L520 380 L505 390 L470 385 L455 352 L420 338 L370 322 L300 332 L235 320 L200 338 L150 335 L120 310 L105 260 L110 215 L60 205 L-5 205Z"/>
<path d="M-5 310 L25 315 L45 355 L35 380 L-5 395Z"/>
<path d="M440 395 L470 385 L505 392 L520 440 L510 500 L495 545 L465 545 L435 530 L425 470 L428 420Z"/>
<path d="M428 534 L470 542 L500 572 L560 632 L610 677 L628 707 L600 717 L560 712 L540 687 L500 642 L455 592 L435 562Z"/>
<path d="M180 600 L210 570 L250 545 L275 528 L285 540 L330 535 L356 524 L365 545 L395 538 L410 560 L405 586 L385 590 L380 645 L340 680 L300 720 L270 755 L250 750 L235 690 L185 690 L175 630Z"/>
<path d="M385 590 L440 590 L460 615 L440 640 L410 655 L380 645Z"/>
<path d="M300 720 L340 680 L380 650 L410 660 L405 690 L370 730 L340 770 L310 790 L295 760Z"/>
<path d="M120 745 L185 690 L235 690 L250 750 L295 760 L310 790 L300 830 L290 850 L310 890 L300 935 L235 940 L240 900 L200 850 L150 800Z"/>
<path d="M60 790 L125 770 L135 800 L120 830 L85 890 L50 900 L30 850 L50 820Z"/>
<path d="M-5 695 L20 720 L40 750 L60 780 L40 830 L20 870 L-5 872Z"/>
<path d="M405 772 L420 722 L440 672 L490 647 L520 652 L545 697 L540 717 L500 747 L450 762 L410 782Z"/>
<path d="M800 510 L850 500 L900 510 L915 540 L905 570 L890 580 L920 600 L956 610 L956 832 L770 832 L750 790 L730 750 L715 715 L730 690 L760 680 L790 690 L800 660 L770 650 L745 640 L750 600 L780 580 L790 540Z"/>
<path d="M915 535 L956 525 L956 580 L920 575Z"/>
<path d="M640 497 L680 495 L678 515 L644 516Z" stroke="none"/>
</g>
<g id="b2B" fill="#0404f2" stroke="#0a0a70" stroke-width="3.2" stroke-linejoin="round">
<path d="M300 -5 L525 -5 L560 22 L610 40 L660 50 L690 72 L688 108 L640 118 L600 128 L600 170 L560 180 L520 200 L500 238 L482 240 L476 215 L488 205 L470 180 L420 165 L400 155 L400 130 L440 115 L460 100 L445 78 L400 62 L350 85 L330 100 L280 100 L290 50Z"/>
<path d="M760 20 L775 30 L785 70 L810 90 L805 125 L775 120 L748 95 L745 60Z"/>
<path d="M278 550 L300 545 L355 548 L350 590 L320 625 L295 622 L280 590Z"/>
<path d="M760 660 L790 670 L785 692 L758 684Z" stroke="none"/>
<path d="M890 572 L922 570 L925 604 L895 602Z" stroke="none"/>
<path d="M545 305 L590 298 L585 318 L555 325Z" stroke="none"/>
</g>
<path fill="#ffff0a" stroke="#3c3c08" stroke-width="2" d="M500 122 L520 105 L550 100 L575 105 L588 124 L585 140 L560 145 L520 140Z"/>
<g fill="#ff0a0a">
<path d="M850 610 L870 606 L866 628 L852 630Z"/><path d="M790 680 L806 676 L802 698 L790 698Z"/><path d="M20 850 L34 848 L30 872 L20 870Z"/><path d="M126 790 L136 790 L134 812 L126 812Z"/>
<path d="M850 258 L880 262 L878 270 L852 268Z"/><path d="M548 312 L566 308 L564 318 L550 320Z"/><path d="M810 596 L824 594 L822 604 L812 604Z"/>
</g>
<g fill="none" stroke="#2e2e06" stroke-width="4.4" stroke-linejoin="round" stroke-linecap="round">
<path d="M120 215 L160 170 L200 135 L250 125 L290 105"/><path d="M340 150 L360 185"/><path d="M590 160 L620 200 L655 245 L690 215 L740 170 L775 120"/>
<path d="M655 245 L665 280 L700 295 L740 270 L760 310"/><path d="M842 262 L856 232 L900 200 L956 185"/><path d="M690 50 L730 45 L760 20"/><path d="M810 60 L870 40 L956 10"/>
</g>
<g fill="none" stroke="#06066a" stroke-width="4.4" stroke-linejoin="round" stroke-linecap="round" opacity="0.85">
<path d="M0 400 L60 380 L120 340"/><path d="M60 380 L80 430 L150 440 L230 420 L300 430 L370 420 L430 400"/><path d="M230 340 L240 380 L230 420"/><path d="M240 380 L320 360 L420 350"/>
<path d="M0 520 L60 540 L110 560 L180 560 L210 570"/><path d="M80 430 L90 500 L60 540"/><path d="M150 440 L170 500 L180 560"/><path d="M230 420 L260 470 L270 530"/>
<path d="M0 680 L40 720 L100 740 L125 745"/><path d="M520 400 L600 380 L610 440 L690 450 L700 400 L760 380 L800 400 L860 330"/><path d="M610 440 L600 500 L640 560 L720 600 L750 600"/>
<path d="M690 450 L740 470 L800 460 L810 400"/><path d="M740 470 L760 540 L790 540"/><path d="M520 560 L600 560 L640 560"/><path d="M600 720 L610 800 L600 943"/><path d="M610 800 L700 790 L750 790"/>
<path d="M310 800 L400 790 L470 800 L480 943"/><path d="M400 790 L410 780"/><path d="M130 830 L200 900 L230 943"/><path d="M0 880 L40 900 L60 943"/>
<path d="M700 330 L720 380 L700 400"/><path d="M760 310 L770 360 L760 380"/><path d="M380 20 L400 60"/>
</g>
</g></g></svg></div>
<div class="p" style="left:568px;top:241px;width:240px;height:238px"><svg width="240" height="238" viewBox="0 0 951 943" preserveAspectRatio="none"><defs><filter id="blc2" x="-2%" y="-2%" width="104%" height="104%"><feTurbulence type="fractalNoise" baseFrequency="0.022" numOctaves="2" seed="7" result="t"/><feDisplacementMap in="SourceGraphic" in2="t" scale="12" xChannelSelector="R" yChannelSelector="G" result="d"/><feGaussianBlur in="d" stdDeviation="1.5"/></filter><clipPath id="cpc2"><rect x="3.6" y="2.8" width="944.7" height="935.9"/></clipPath></defs><g clip-path="url(#cpc2)"><g filter="url(#blc2)"><rect width="951" height="943" fill="#ffff0a"/>
<g id="c2B" fill="#0404f2" stroke="#0a0a70" stroke-width="3.2" stroke-linejoin="round">
<path d="M-5 120 L40 112 L95 105 L110 150 L140 180 L185 200 L215 215 L250 225 L280 255 L300 290 L325 335 L360 340 L395 325 L410 290 L430 255 L440 225 L410 210 L420 180 L450 165 L465 110 L480 50 L480 -5 L575 -5 L600 50 L650 95 L640 110 L600 108 L580 100 L580 120 L585 180 L550 230 L545 255 L590 270 L625 290 L640 320 L640 360 L615 390 L620 430 L640 445 L680 435 L720 430 L770 435 L790 400 L800 385 L850 365 L920 335 L915 375 L900 420 L885 460 L870 490 L840 495 L800 480 L790 500 L775 540 L790 570 L800 600 L790 650 L800 690 L820 735 L790 750 L750 730 L720 700 L700 670 L700 630 L665 645 L650 610 L620 600 L580 600 L530 640 L490 660 L465 695 L440 680 L400 670 L365 690 L330 710 L290 710 L250 700 L200 690 L195 660 L215 640 L225 600 L250 570 L290 540 L330 525 L380 505 L395 480 L370 470 L330 470 L290 480 L240 480 L200 475 L140 470 L100 470 L50 470 L-5 470Z"/>
<path d="M625 -5 L956 -5 L956 130 L920 150 L870 145 L800 128 L740 118 L690 100 L660 70 L640 35Z"/>
<path d="M40 710 L90 695 L140 685 L180 700 L185 730 L160 745 L185 760 L180 785 L140 790 L100 775 L60 790 L25 770 L20 735Z"/>
<path d="M720 800 L750 770 L800 755 L850 755 L900 765 L956 780 L956 840 L730 840Z"/>
<path d="M930 640 L956 650 L956 680 L935 670Z" stroke="none"/>
<path d="M-5 580 L25 582 L22 600 L-5 600Z" stroke="none"/>
</g>
<path fill="none" stroke="#fff8c8" stroke-width="7" stroke-linecap="round" stroke-linejoin="round" d="M425 458 L421 500 L416 545 L406 585"/>
<g fill="none" stroke="#ff1010" stroke-width="6" stroke-linecap="round">
<path d="M122 468 L140 446"/><path d="M32 578 L58 552"/><path d="M652 66 L664 86"/><path d="M768 768 L780 752"/>
</g>
<path fill="none" stroke="#e01030" stroke-width="3" d="M442 232 L456 262 L470 286"/>
<g fill="none" stroke="#2e2e06" stroke-width="4.4" stroke-linejoin="round" stroke-linecap="round">
<path d="M130 20 L170 60 L185 120 L180 180"/><path d="M200 100 L250 80 L290 90 L310 20 L320 0"/><path d="M250 30 L280 25"/>
<path d="M575 80 L640 130 L680 160 L690 200 L670 240 L640 290"/><path d="M600 0 L620 50 L650 95"/><path d="M790 385 L850 345 L956 290"/>
<path d="M0 530 L60 545 L140 535 L240 520 L330 525"/><path d="M170 630 L180 600 L215 575 L240 572 L225 600 L215 640 L185 648Z"/><path d="M0 650 L30 670 L40 710"/><path d="M0 840 L10 880"/>
<path d="M185 760 L175 800 L160 860 L130 943"/><path d="M340 715 L345 780 L330 850 L300 943"/>
<path d="M700 700 L660 750 L610 820 L560 860 L480 890 L400 910 L330 930"/><path d="M610 820 L600 850 L620 870"/><path d="M800 575 L870 600 L920 640 L956 670"/><path d="M820 735 L956 700"/>
<path d="M380 920 L430 900 L480 905 L440 930 L390 935Z"/>
</g>
<g fill="none" stroke="#1c1c06" stroke-width="5" stroke-linecap="round"><path d="M906 232 L910 252"/><path d="M642 772 L654 790"/></g>
<g fill="none" stroke="#06066a" stroke-width="4.4" stroke-linejoin="round" stroke-linecap="round" opacity="0.9">
<path d="M0 200 L60 210 L130 250 L200 300 L250 340 L280 400"/><path d="M0 130 L60 170 L130 250"/><path d="M130 450 L150 400 L200 360 L250 340"/><path d="M150 440 L220 410 L260 370"/>
<path d="M280 400 L340 420 L360 440"/><path d="M300 330 L290 380 L300 420"/><path d="M395 325 L390 380 L430 400 L480 470"/><path d="M460 290 L500 340 L540 400 L570 440 L615 390"/>
<path d="M560 60 L570 120"/><path d="M640 445 L660 540 L640 590"/><path d="M660 540 L700 520 L775 540"/><path d="M700 630 L760 660 L800 690"/><path d="M775 600 L760 660"/>
</g>
</g></g></svg></div>
<div class="p" style="left:87px;top:480px;width:239px;height:238px"><svg width="239" height="238" viewBox="0 0 951 947" preserveAspectRatio="none"><defs><filter id="bla3" x="-2%" y="-2%" width="104%" height="104%"><feTurbulence type="fractalNoise" baseFrequency="0.022" numOctaves="2" seed="7" result="t"/><feDisplacementMap in="SourceGraphic" in2="t" scale="5" xChannelSelector="R" yChannelSelector="G" result="d"/><feGaussianBlur in="d" stdDeviation="1.5"/></filter><clipPath id="cpa3"><rect x="2.0" y="3.2" width="946.2" height="937.5"/></clipPath></defs><g clip-path="url(#cpa3)"><g filter="url(#bla3)"><defs><filter id="kna" x="0" y="0" width="100%" height="100%"><feTurbulence type="fractalNoise" baseFrequency="0.06" numOctaves="2" seed="97"/><feColorMatrix values="0 0 0 0 0.06  0 0 0 0 0.46  0 0 0 0 0.72  0.8 0 0 0 -0.36"/></filter><filter id="kha" x="-5%" y="-5%" width="110%" height="110%"><feGaussianBlur stdDeviation="5"/></filter></defs><rect width="951" height="947" fill="#0e36da"/><rect width="951" height="947" filter="url(#kna)"/><g fill="#0c26e4" stroke="none">
<path d="M378 8 L438 8 L450 30 L458 52 L440 48 L405 60 L380 72 L372 40Z"/>
<path d="M392 82 L425 82 L442 104 L462 114 L456 132 L425 135 L395 152 L360 156 L340 140 L362 116 L380 96Z"/>
<path d="M548 5 L602 5 L582 16 L556 20Z"/>
<path d="M652 5 L758 5 L746 24 L722 30 L690 22 L666 18Z"/>
<path d="M122 140 L136 150 L130 186 L106 206 L82 210 L92 174Z"/>
<path d="M198 132 L226 134 L246 160 L226 172 L204 166Z"/>
<path d="M0 392 L40 375 L75 358 L100 386 L130 378 L160 386 L176 408 L196 388 L215 368 L245 355 L290 358 L300 382 L330 360 L375 340 L410 345 L436 362 L450 322 L470 296 L520 256 L580 222 L632 198 L655 235 L680 282 L690 322 L740 346 L790 372 L850 374 L880 346 L890 300 L920 260 L951 236 L951 572 L900 566 L860 560 L820 548 L780 544 L740 550 L710 545 L680 538 L650 528 L620 520 L600 532 L560 526 L530 520 L520 560 L540 580 L556 602 L546 632 L520 632 L505 600 L470 590 L455 570 L450 540 L420 545 L380 550 L340 570 L310 582 L280 560 L250 566 L215 576 L175 580 L160 602 L130 612 L105 600 L75 626 L55 642 L0 644Z"/>
<path d="M300 640 L320 672 L336 714 L300 702 L244 686 L266 660Z"/>
<path d="M28 650 L60 655 L70 686 L40 692Z"/>
<path d="M48 830 L100 820 L150 814 L170 850 L186 886 L216 910 L212 947 L86 947 L70 900 L44 860Z"/>
<path d="M430 947 L424 900 L430 850 L440 816 L470 790 L510 770 L545 746 L575 722 L600 702 L600 672 L630 660 L656 690 L650 712 L626 716 L600 740 L610 766 L640 790 L640 947Z"/>
<path d="M750 746 L790 740 L830 750 L826 800 L820 860 L800 872 L770 850 L746 800Z"/>
<path d="M700 752 L720 750 L720 790 L704 788Z"/>
<path d="M775 590 L800 600 L826 620 L790 626 L770 610Z"/>
</g><g filter="url(#kha)" opacity="0.5"><g fill="none" stroke="#18b898" stroke-width="13" stroke-linecap="round" stroke-linejoin="round">
<path d="M10 330 L60 340 L120 330 L170 320 L230 330 L290 320 L330 310"/><path d="M200 380 L220 350 L260 345 L280 330"/><path d="M690 270 L740 200 L790 150"/>
<path d="M700 320 L760 330 L800 320 L850 330"/><path d="M780 360 L800 340 L830 350"/><path d="M430 370 L470 350 L500 330 L520 360 L560 400"/><path d="M440 330 L480 310"/>
<path d="M520 540 L560 555 L580 580 L590 620 L620 630 L660 600 L700 590"/><path d="M640 550 L700 560 L760 570 L820 575 L880 570 L930 590"/><path d="M700 600 L760 620 L820 610 L860 600"/>
<path d="M800 640 L820 680 L840 700"/><path d="M900 570 L920 610 L945 620"/><path d="M130 620 L150 580 L170 590 L180 570 L210 570"/><path d="M180 640 L220 660 L250 640"/><path d="M10 690 L50 700 L100 715"/>
<path d="M520 690 L540 670 L560 640"/><path d="M5 350 L30 300"/>
</g>
<g fill="none" stroke="#18b898" stroke-opacity="0.7" stroke-width="13" stroke-linecap="round" stroke-linejoin="round">
<path d="M100 215 L160 210 L220 200 L300 180 L360 150 L420 130 L480 130"/><path d="M120 290 L200 270 L300 240 L380 210 L440 180"/><path d="M340 240 L400 200 L440 150"/><path d="M360 290 L420 260 L470 240"/>
<path d="M720 690 L740 720 L760 740"/><path d="M870 640 L890 660"/><path d="M20 670 L60 690"/><path d="M200 720 L240 710"/><path d="M100 600 L110 650 L130 690"/><path d="M280 760 L300 820 L290 870"/><path d="M360 680 L380 740"/>
<path d="M560 420 L600 440 L640 430"/><path d="M450 420 L480 440"/><path d="M600 520 L640 530"/><path d="M740 640 L780 660"/><path d="M160 600 L200 620"/>
</g>
</g><path transform="scale(1 1.0172)" fill="none" stroke="#08105a" stroke-opacity="0.55" stroke-width="3.2" stroke-linejoin="round" d="M0 0 L200 0 L221 20 L251 50 L281 60 L306 75 L301 95 L281 85 L251 90 L226 108 L211 105 L191 115 L171 146 L141 146 L130 120 L85 150 L65 146 L30 161 L0 170Z M200 0 L378 0 L381 40 L371 70 L351 100 L326 105 L311 95 L306 75 L281 60 L251 50 L221 20Z M378 0 L420 0 L407 40 L381 40Z M351 100 L371 70 L392 55 L427 65 L457 85 L462 105 L452 115 L376 125 L351 115Z M20 171 L65 146 L80 161 L70 181 L30 191Z M80 161 L85 150 L130 120 L141 146 L125 166 L75 180Z M176 143 L191 115 L211 105 L226 108 L246 135 L170 150Z M226 108 L251 90 L281 85 L301 95 L309 115 L281 133 L246 135Z M301 95 L311 95 L322 104 L309 115Z M0 196 L30 190 L75 180 L125 166 L170 150 L240 135 L310 120 L350 115 L376 125 L452 115 L472 130 L467 165 L437 186 L400 216 L371 251 L346 281 L341 311 L321 326 L296 341 L281 361 L236 366 L190 374 L165 366 L135 351 L95 361 L65 331 L30 311 L15 281 L25 241 L15 221Z M509 45 L539 10 L560 0 L684 0 L689 30 L674 60 L639 80 L599 90 L544 90 L524 75Z M684 0 L737 0 L730 45 L714 75 L674 95 L639 105 L624 95 L639 80 L674 60 L689 30Z M420 0 L452 0 L480 24 L509 45 L524 75 L544 90 L599 90 L624 95 L634 151 L629 171 L574 196 L514 226 L494 201 L480 180 L467 165 L472 130 L462 105 L457 85 L427 65 L407 40Z M639 105 L674 95 L714 75 L730 45 L755 70 L775 95 L795 115 L825 130 L855 146 L875 166 L895 191 L915 186 L925 150 L951 115 L951 221 L915 241 L890 281 L880 321 L855 341 L825 346 L805 326 L785 311 L745 306 L709 311 L689 301 L674 251 L654 201 L634 151Z M737 0 L951 0 L951 115 L925 150 L915 186 L895 191 L875 166 L855 146 L825 130 L795 115 L775 95 L755 70 L730 45Z M951 221 L951 351 L890 346 L880 321 L890 281 L915 241Z M346 296 L371 251 L402 216 L437 186 L467 166 L480 180 L494 201 L514 226 L473 266 L473 280 L440 296 L400 306 L360 316Z M473 266 L514 226 L574 196 L629 171 L654 201 L674 251 L689 301 L689 341 L702 377 L694 402 L679 412 L639 397 L599 382 L574 372 L534 331 L504 311 L473 296Z M694 321 L709 311 L745 306 L785 311 L805 326 L810 351 L795 372 L755 377 L709 374 L694 361Z M815 366 L835 351 L870 346 L885 361 L880 382 L855 397 L825 387Z M885 361 L890 346 L951 351 L951 402 L925 410 L900 396 L880 382Z M855 397 L880 382 L900 396 L925 410 L925 435 L900 428 L868 442Z M10 387 L20 351 L60 331 L90 361 L93 382 L60 397 L15 402Z M98 372 L131 351 L161 359 L171 382 L156 407 L120 417 L100 397Z M0 402 L15 402 L60 397 L100 397 L120 417 L118 442 L60 465 L0 470Z M118 420 L156 407 L166 430 L171 442 L165 470 L135 480 L118 442Z M166 417 L171 397 L191 374 L236 366 L274 369 L281 392 L266 417 L261 447 L201 452 L171 442Z M281 392 L301 374 L321 382 L321 427 L311 452 L266 447 L266 417Z M321 351 L346 321 L397 314 L407 341 L422 382 L437 432 L432 465 L380 470 L331 465 L321 427 L321 382Z M400 306 L440 296 L452 336 L470 378 L498 392 L498 440 L460 442 L437 432 L422 382 L407 341Z M440 296 L473 296 L504 311 L534 331 L574 372 L584 382 L564 397 L524 387 L498 392 L470 378 L452 336Z M498 392 L524 387 L564 397 L569 432 L540 412 L498 430Z M574 402 L584 382 L599 382 L639 397 L679 412 L684 440 L680 462 L640 470 L600 465 L582 440Z M684 417 L702 382 L755 379 L795 377 L825 387 L855 402 L868 442 L866 475 L846 506 L800 521 L740 519 L700 502 L680 462Z M868 442 L900 428 L951 432 L951 526 L900 538 L866 512 L866 475Z M0 480 L60 468 L115 480 L136 516 L126 546 L95 571 L65 551 L30 516 L0 496Z M141 475 L165 470 L221 470 L228 516 L221 541 L166 548 L141 536 L136 516Z M226 472 L276 470 L280 512 L262 534 L232 528Z M291 480 L346 473 L356 506 L346 531 L321 548 L296 526Z M350 475 L380 470 L400 480 L396 506 L366 512 L354 500Z M400 470 L440 456 L496 446 L500 490 L470 512 L420 516 L396 502Z M498 430 L540 412 L582 432 L584 476 L552 498 L510 490Z M565 472 L600 465 L640 470 L636 505 L590 512Z M0 496 L30 516 L65 551 L75 571 L55 596 L20 611 L0 611Z M120 566 L141 548 L221 541 L241 546 L301 536 L316 561 L311 586 L296 611 L251 641 L221 631 L171 601 L131 581Z M316 561 L351 541 L397 526 L417 546 L444 566 L402 583 L351 591 L326 581Z M60 596 L75 571 L100 573 L131 581 L171 601 L221 631 L241 656 L211 686 L171 717 L151 712 L100 686 L80 641Z M246 651 L296 611 L311 616 L321 646 L336 676 L321 691 L286 681 L251 666Z M311 606 L326 591 L351 591 L402 583 L444 566 L480 570 L504 590 L524 631 L520 660 L498 700 L467 727 L447 752 L402 744 L351 727 L311 706 L336 676 L321 646Z M10 676 L25 636 L55 631 L80 641 L100 686 L151 712 L146 727 L100 752 L40 772 L0 756 L0 690Z M504 571 L549 556 L574 586 L599 616 L589 626 L544 636 L524 631 L519 596Z M473 706 L504 666 L529 641 L574 621 L594 631 L596 661 L574 686 L554 711 L529 747 L498 777 L473 787 L447 786 L447 752 L467 727Z M432 790 L473 787 L476 822 L442 830Z M564 706 L584 681 L604 666 L609 686 L594 711Z M614 646 L629 636 L649 661 L654 676 L644 686 L619 671Z M604 686 L654 676 L674 661 L694 656 L714 681 L709 706 L694 722 L664 742 L634 732 L609 717 L599 701Z M634 747 L664 744 L694 727 L735 717 L752 732 L745 767 L730 807 L720 820 L634 820Z M765 737 L780 714 L820 727 L830 747 L820 777 L825 820 L770 820 L762 777Z M35 806 L50 796 L100 791 L161 786 L171 816 L201 866 L216 917 L216 931 L95 931 L80 892 L60 852 L45 826Z"/><defs><filter id="kga" x="-30%" y="-30%" width="160%" height="160%"><feGaussianBlur stdDeviation="26"/></filter></defs>
<g filter="url(#kga)" opacity="0.42" fill="#18a8a0"><ellipse cx="230" cy="275" rx="230" ry="85" transform="rotate(-12 230 275)"/><ellipse cx="800" cy="290" rx="130" ry="65"/><ellipse cx="720" cy="610" rx="250" ry="65"/><ellipse cx="130" cy="650" rx="140" ry="70"/><ellipse cx="480" cy="380" rx="80" ry="50"/></g>
<g fill="none" stroke="#3cf048" stroke-width="5" stroke-linecap="round" stroke-linejoin="round">
<path d="M10 330 L60 340 L120 330 L170 320 L230 330 L290 320 L330 310"/><path d="M200 380 L220 350 L260 345 L280 330"/><path d="M690 270 L740 200 L790 150"/>
<path d="M700 320 L760 330 L800 320 L850 330"/><path d="M780 360 L800 340 L830 350"/><path d="M430 370 L470 350 L500 330 L520 360 L560 400"/><path d="M440 330 L480 310"/>
<path d="M520 540 L560 555 L580 580 L590 620 L620 630 L660 600 L700 590"/><path d="M640 550 L700 560 L760 570 L820 575 L880 570 L930 590"/><path d="M700 600 L760 620 L820 610 L860 600"/>
<path d="M800 640 L820 680 L840 700"/><path d="M900 570 L920 610 L945 620"/><path d="M130 620 L150 580 L170 590 L180 570 L210 570"/><path d="M180 640 L220 660 L250 640"/><path d="M10 690 L50 700 L100 715"/>
<path d="M520 690 L540 670 L560 640"/><path d="M5 350 L30 300"/>
</g>
<g fill="none" stroke="#28d860" stroke-opacity="0.7" stroke-width="4" stroke-linecap="round" stroke-linejoin="round">
<path d="M100 215 L160 210 L220 200 L300 180 L360 150 L420 130 L480 130"/><path d="M120 290 L200 270 L300 240 L380 210 L440 180"/><path d="M340 240 L400 200 L440 150"/><path d="M360 290 L420 260 L470 240"/>
<path d="M720 690 L740 720 L760 740"/><path d="M870 640 L890 660"/><path d="M20 670 L60 690"/><path d="M200 720 L240 710"/><path d="M100 600 L110 650 L130 690"/><path d="M280 760 L300 820 L290 870"/><path d="M360 680 L380 740"/>
<path d="M560 420 L600 440 L640 430"/><path d="M450 420 L480 440"/><path d="M600 520 L640 530"/><path d="M740 640 L780 660"/><path d="M160 600 L200 620"/>
</g>
</g></g></svg></div>
<div class="p" style="left:327px;top:480px;width:240px;height:238px"><svg width="240" height="238" viewBox="0 0 951 943" preserveAspectRatio="none"><defs><filter id="blb3" x="-2%" y="-2%" width="104%" height="104%"><feTurbulence type="fractalNoise" baseFrequency="0.022" numOctaves="2" seed="7" result="t"/><feDisplacementMap in="SourceGraphic" in2="t" scale="5" xChannelSelector="R" yChannelSelector="G" result="d"/><feGaussianBlur in="d" stdDeviation="1.5"/></filter><clipPath id="cpb3"><rect x="3.2" y="3.2" width="942.7" height="933.6"/></clipPath></defs><g clip-path="url(#cpb3)"><g filter="url(#blb3)"><defs><filter id="knb" x="0" y="0" width="100%" height="100%"><feTurbulence type="fractalNoise" baseFrequency="0.06" numOctaves="2" seed="98"/><feColorMatrix values="0 0 0 0 0.06  0 0 0 0 0.46  0 0 0 0 0.72  0.8 0 0 0 -0.36"/></filter><filter id="khb" x="-5%" y="-5%" width="110%" height="110%"><feGaussianBlur stdDeviation="5"/></filter></defs><rect width="951" height="943" fill="#0c26e4"/><g fill="#0e36da" stroke="none">
<path d="M-5 -5 L956 -5 L956 308 L900 335 L880 345 L860 320 L880 300 L890 275 L865 258 L840 265 L830 290 L790 292 L760 310 L720 312 L700 330 L650 345 L600 365 L560 372 L520 380 L505 390 L470 385 L455 352 L420 338 L370 322 L300 332 L235 320 L200 338 L150 335 L120 310 L105 260 L110 215 L60 205 L-5 205Z"/>
<path d="M-5 310 L25 315 L45 355 L35 380 L-5 395Z"/>
<path d="M440 395 L470 385 L505 392 L520 440 L510 500 L495 545 L465 545 L435 530 L425 470 L428 420Z"/>
<path d="M428 534 L470 542 L500 572 L560 632 L610 677 L628 707 L600 717 L560 712 L540 687 L500 642 L455 592 L435 562Z"/>
<path d="M180 600 L210 570 L250 545 L275 528 L285 540 L330 535 L356 524 L365 545 L395 538 L410 560 L405 586 L385 590 L380 645 L340 680 L300 720 L270 755 L250 750 L235 690 L185 690 L175 630Z"/>
<path d="M385 590 L440 590 L460 615 L440 640 L410 655 L380 645Z"/>
<path d="M300 720 L340 680 L380 650 L410 660 L405 690 L370 730 L340 770 L310 790 L295 760Z"/>
<path d="M120 745 L185 690 L235 690 L250 750 L295 760 L310 790 L300 830 L290 850 L310 890 L300 935 L235 940 L240 900 L200 850 L150 800Z"/>
<path d="M60 790 L125 770 L135 800 L120 830 L85 890 L50 900 L30 850 L50 820Z"/>
<path d="M-5 695 L20 720 L40 750 L60 780 L40 830 L20 870 L-5 872Z"/>
<path d="M405 772 L420 722 L440 672 L490 647 L520 652 L545 697 L540 717 L500 747 L450 762 L410 782Z"/>
<path d="M800 510 L850 500 L900 510 L915 540 L905 570 L890 580 L920 600 L956 610 L956 832 L770 832 L750 790 L730 750 L715 715 L730 690 L760 680 L790 690 L800 660 L770 650 L745 640 L750 600 L780 580 L790 540Z"/>
<path d="M915 535 L956 525 L956 580 L920 575Z"/>
<path d="M640 497 L680 495 L678 515 L644 516Z" stroke="none"/>
</g><rect width="951" height="943" filter="url(#knb)" opacity="0.6"/><g fill="#0c26e4" stroke="none">
<path d="M300 -5 L525 -5 L560 22 L610 40 L660 50 L690 72 L688 108 L640 118 L600 128 L600 170 L560 180 L520 200 L500 238 L482 240 L476 215 L488 205 L470 180 L420 165 L400 155 L400 130 L440 115 L460 100 L445 78 L400 62 L350 85 L330 100 L280 100 L290 50Z"/>
<path d="M760 20 L775 30 L785 70 L810 90 L805 125 L775 120 L748 95 L745 60Z"/>
<path d="M278 550 L300 545 L355 548 L350 590 L320 625 L295 622 L280 590Z"/>
<path d="M760 660 L790 670 L785 692 L758 684Z" stroke="none"/>
<path d="M890 572 L922 570 L925 604 L895 602Z" stroke="none"/>
<path d="M545 305 L590 298 L585 318 L555 325Z" stroke="none"/>
</g><g filter="url(#khb)" opacity="0.5"><g fill="none" stroke="#18b898" stroke-width="13" stroke-linecap="round" stroke-linejoin="round">
<path d="M130 10 L150 80 L175 140"/><path d="M140 240 L200 245 L250 265 L300 275 L320 300"/><path d="M350 170 L380 130 L420 100 L460 90"/><path d="M400 290 L450 295 L510 300 L560 310 L590 300"/>
<path d="M430 300 L440 340"/><path d="M470 350 L500 330 L520 350 L500 380"/><path d="M540 320 L570 300 L590 320 L560 335 L545 320"/><path d="M510 260 L560 240 L590 235 L620 270 L640 275"/>
<path d="M780 290 L830 265 L860 250 L890 260 L880 300 L890 330"/><path d="M790 540 L800 570 L780 590 L820 600 L850 610"/><path d="M850 620 L830 660 L800 690 L770 670 L750 660"/>
<path d="M20 320 L40 350 L60 345"/><path d="M200 320 L225 305 L235 325"/>
</g>
<g fill="none" stroke="#18b898" stroke-opacity="0.7" stroke-width="13" stroke-linecap="round" stroke-linejoin="round">
<path d="M500 130 L540 105 L580 110 L560 135 L510 135"/><path d="M880 650 L920 660 L940 640"/><path d="M800 10 L810 40"/><path d="M480 820 L520 830 L560 850 L590 840"/><path d="M50 770 L70 790"/><path d="M20 870 L30 900"/>
<path d="M640 500 L680 495 L700 520"/><path d="M260 640 L280 600"/><path d="M330 100 L350 120"/>
</g>
</g><path transform="scale(1 1.0173)" fill="none" stroke="#03061c" stroke-opacity="0.9" stroke-width="3.8" stroke-linejoin="round" d="M0 0 L290 0 L285 50 L280 80 L250 105 L225 120 L190 115 L165 140 L140 160 L120 180 L75 185 L0 180Z M290 0 L395 0 L400 30 L380 55 L345 70 L320 80 L290 70 L285 50Z M395 0 L585 0 L635 20 L690 40 L685 80 L640 90 L590 105 L600 145 L550 165 L500 190 L476 170 L450 150 L425 140 L400 135 L405 115 L435 85 L455 65 L450 50 L415 45 L400 30Z M495 102 L525 75 L570 82 L585 100 L560 117 L520 117Z M585 0 L755 0 L735 25 L700 37 L665 30 L635 20Z M690 40 L700 37 L735 25 L755 0 L780 0 L790 40 L815 70 L805 100 L775 100 L755 130 L725 165 L695 190 L665 215 L655 240 L640 230 L615 200 L600 145 L590 105 L640 90 L685 80Z M780 0 L905 0 L870 20 L835 27 L805 20Z M790 40 L805 20 L835 27 L870 20 L905 0 L951 0 L951 160 L915 175 L875 195 L845 215 L835 255 L800 265 L760 260 L735 240 L710 245 L695 265 L675 255 L660 235 L665 215 L695 190 L725 165 L755 130 L775 100 L805 100 L815 70Z M951 160 L915 175 L875 195 L845 215 L840 240 L855 250 L890 245 L925 265 L951 270Z M0 180 L75 185 L120 180 L140 160 L165 140 L190 115 L225 120 L250 105 L280 80 M400 135 L425 140 L450 150 L476 170 L500 190 M0 180 L75 185 L120 180 L115 220 L108 260 L115 305 L80 320 L65 295 L30 280 L0 285Z M0 285 L30 280 L65 295 L75 320 L50 350 L0 370Z M0 370 L50 350 L75 320 L115 305 L150 300 L200 305 L220 320 L235 345 L230 395 L200 410 L150 430 L100 445 L0 440Z M235 345 L280 315 L320 295 L360 295 L400 305 L430 320 L430 380 L380 390 L320 400 L270 415 L240 395 L230 370Z M270 415 L320 400 L380 390 L430 380 L425 415 L420 450 L375 509 L272 504 L270 465Z M100 445 L150 430 L200 410 L230 395 L270 415 L270 474 L275 504 L240 519 L205 544 L180 519 L150 514 L115 514 L95 484 L90 460Z M430 380 L476 372 L515 370 L550 350 L600 345 L610 380 L620 425 L575 445 L540 415 L515 440 L510 524 L476 524 L440 509 L400 514 L375 509 L420 450 L425 415Z M515 440 L540 415 L575 445 L580 480 L575 494 L515 504Z M695 315 L715 295 L745 285 L755 270 L800 270 L815 300 L825 340 L800 375 L765 385 L725 370 L700 340Z M805 270 L835 255 L855 250 L890 245 L925 265 L951 270 L951 285 L915 305 L895 320 L865 320 L835 345 L825 340 L815 300Z M610 330 L665 320 L695 315 L700 340 L715 370 L695 400 L690 425 L620 425 L610 380Z M715 370 L745 385 L735 415 L715 430 L690 425 L695 400Z M725 430 L745 385 L765 385 L785 400 L805 465 L800 479 L775 504 L745 484 L715 465Z M800 375 L825 340 L835 345 L865 320 L895 320 L905 380 L910 415 L875 425 L865 465 L875 484 L825 474 L805 465 L785 400Z M895 320 L915 305 L951 285 L951 410 L915 410 L905 380Z M905 410 L951 410 L951 494 L925 484 L900 494 L875 484 L865 465 L875 425Z M585 474 L580 445 L620 425 L670 425 L665 479 L645 504Z M645 504 L665 479 L670 425 L690 425 L715 430 L715 465 L745 484 L775 504 L780 534 L770 564 L745 574 L735 574 L700 544 L675 519Z M15 494 L55 481 L95 484 L112 514 L90 529 L30 529Z M0 514 L22 512 L30 529 L28 549 L0 552Z M115 519 L150 514 L180 519 L205 544 L200 559 L180 571 L145 554 L120 539Z M10 554 L30 534 L90 529 L120 539 L145 554 L175 574 L180 614 L190 664 L185 689 L160 709 L120 714 L70 714 L40 699 L10 664Z M180 571 L200 559 L205 544 L240 519 L275 504 L280 544 L280 584 L310 604 L345 564 L370 529 L400 514 L415 529 L380 559 L375 614 L350 644 L320 684 L295 729 L260 729 L240 664 L190 664 L180 614Z M282 508 L360 506 L366 526 L350 519 L300 534 L282 544Z M280 544 L300 534 L350 519 L370 529 L345 564 L310 604 L280 584Z M380 559 L415 554 L450 569 L470 599 L450 629 L415 629 L375 614Z M415 554 L415 529 L440 509 L476 519 L495 524 M415 554 L450 569 L476 594 M495 524 L515 549 L550 579 L590 619 L620 659 L625 674 L610 699 L575 689 L545 684 L525 634 L495 604 L476 594 M495 524 L515 504 L575 494 L645 504 L675 519 L700 544 L735 574 L740 614 L735 649 L695 654 L675 674 L640 674 L620 659 L590 619 L550 579 L515 549Z M295 729 L320 684 L350 644 L375 629 L410 634 L415 654 L390 684 L360 729 L340 764 L320 784 L300 759Z M415 654 L450 629 L470 629 L435 664 L410 714 L410 764 L476 739 L476 784 L450 809 L400 824 L370 809 L340 849 L320 849 L300 829 L320 784 L340 764 L360 729 L390 684Z M435 664 L470 629 L476 594 L495 604 L525 634 L545 684 L525 699 L500 724 L476 739 L410 764 L410 714Z M165 714 L190 664 L240 664 L260 729 L295 729 L315 789 L295 824 L260 809 L220 769 L185 734Z M120 714 L160 709 L185 734 L220 769 L260 809 L295 824 L320 854 L345 879 L350 927 L270 927 L260 884 L220 849 L170 794 L135 754Z M0 664 L10 664 L40 699 L70 714 L120 714 L125 739 L90 744 L65 784 L40 824 L25 854 L30 927 L0 927Z M65 784 L90 744 L125 739 L135 764 L130 814 L105 839 L85 879 L65 894 L40 864 L35 829Z M130 814 L140 774 L170 804 L190 834 L190 909 L165 884 L140 864 L120 834Z M190 834 L220 849 L235 879 L260 894 L260 909 L230 904 L210 909 L190 909Z M25 854 L40 864 L65 894 L85 879 L105 839 L120 834 L140 864 L165 884 L190 909 L230 904 L260 909 L264 927 L30 927Z M340 849 L370 809 L400 824 L415 864 L430 927 L350 927 L355 879Z M400 824 L450 809 L476 784 L476 744 L500 724 L525 699 L545 684 L575 689 L610 699 L595 764 L600 824 L580 844 L575 889 L555 927 L430 927 L415 864Z M600 824 L625 814 L625 927 L555 927 L575 889 L580 844Z M610 699 L625 674 L640 674 L675 674 L695 689 L715 684 L725 724 L735 764 L715 789 L695 809 L625 814 L600 824 L595 764Z M675 674 L695 654 L725 654 L715 684 L695 689Z M705 800 L735 764 L755 784 L775 809 L775 820 L700 820Z M775 504 L800 479 L825 474 L875 484 L900 494 L910 524 L925 564 L935 614 L945 664 L945 815 L775 815 L755 784 L735 764 L725 724 L715 684 L725 654 L735 649 L740 614 L745 574 L770 564 L780 534Z M900 494 L925 484 L951 494 L951 664 L945 664 L935 614 L925 564 L910 524Z"/><defs><filter id="kgb" x="-30%" y="-30%" width="160%" height="160%"><feGaussianBlur stdDeviation="22"/></filter></defs>
<g filter="url(#kgb)" opacity="0.35" fill="#18a8a0"><ellipse cx="400" cy="290" rx="280" ry="55"/><ellipse cx="840" cy="620" rx="90" ry="80"/><ellipse cx="850" cy="280" rx="60" ry="40"/></g>
<g fill="none" stroke="#3cf048" stroke-width="5" stroke-linecap="round" stroke-linejoin="round">
<path d="M130 10 L150 80 L175 140"/><path d="M140 240 L200 245 L250 265 L300 275 L320 300"/><path d="M350 170 L380 130 L420 100 L460 90"/><path d="M400 290 L450 295 L510 300 L560 310 L590 300"/>
<path d="M430 300 L440 340"/><path d="M470 350 L500 330 L520 350 L500 380"/><path d="M540 320 L570 300 L590 320 L560 335 L545 320"/><path d="M510 260 L560 240 L590 235 L620 270 L640 275"/>
<path d="M780 290 L830 265 L860 250 L890 260 L880 300 L890 330"/><path d="M790 540 L800 570 L780 590 L820 600 L850 610"/><path d="M850 620 L830 660 L800 690 L770 670 L750 660"/>
<path d="M20 320 L40 350 L60 345"/><path d="M200 320 L225 305 L235 325"/>
</g>
<g fill="none" stroke="#28d860" stroke-opacity="0.7" stroke-width="4" stroke-linecap="round" stroke-linejoin="round">
<path d="M500 130 L540 105 L580 110 L560 135 L510 135"/><path d="M880 650 L920 660 L940 640"/><path d="M800 10 L810 40"/><path d="M480 820 L520 830 L560 850 L590 840"/><path d="M50 770 L70 790"/><path d="M20 870 L30 900"/>
<path d="M640 500 L680 495 L700 520"/><path d="M260 640 L280 600"/><path d="M330 100 L350 120"/>
</g>
</g></g></svg></div>
<div class="p" style="left:568px;top:480px;width:240px;height:238px"><svg width="240" height="238" viewBox="0 0 951 943" preserveAspectRatio="none"><defs><filter id="blc3" x="-2%" y="-2%" width="104%" height="104%"><feTurbulence type="fractalNoise" baseFrequency="0.022" numOctaves="2" seed="7" result="t"/><feDisplacementMap in="SourceGraphic" in2="t" scale="5" xChannelSelector="R" yChannelSelector="G" result="d"/><feGaussianBlur in="d" stdDeviation="1.5"/></filter><clipPath id="cpc3"><rect x="3.6" y="3.2" width="944.7" height="933.6"/></clipPath></defs><g clip-path="url(#cpc3)"><g filter="url(#blc3)"><defs><filter id="knc" x="0" y="0" width="100%" height="100%"><feTurbulence type="fractalNoise" baseFrequency="0.06" numOctaves="2" seed="99"/><feColorMatrix values="0 0 0 0 0.06  0 0 0 0 0.46  0 0 0 0 0.72  0.8 0 0 0 -0.36"/></filter><filter id="khc" x="-5%" y="-5%" width="110%" height="110%"><feGaussianBlur stdDeviation="5"/></filter></defs><rect width="951" height="943" fill="#0e36da"/><rect width="951" height="943" filter="url(#knc)"/><g fill="#0c26e4" stroke="none">
<path d="M-5 120 L40 112 L95 105 L110 150 L140 180 L185 200 L215 215 L250 225 L280 255 L300 290 L325 335 L360 340 L395 325 L410 290 L430 255 L440 225 L410 210 L420 180 L450 165 L465 110 L480 50 L480 -5 L575 -5 L600 50 L650 95 L640 110 L600 108 L580 100 L580 120 L585 180 L550 230 L545 255 L590 270 L625 290 L640 320 L640 360 L615 390 L620 430 L640 445 L680 435 L720 430 L770 435 L790 400 L800 385 L850 365 L920 335 L915 375 L900 420 L885 460 L870 490 L840 495 L800 480 L790 500 L775 540 L790 570 L800 600 L790 650 L800 690 L820 735 L790 750 L750 730 L720 700 L700 670 L700 630 L665 645 L650 610 L620 600 L580 600 L530 640 L490 660 L465 695 L440 680 L400 670 L365 690 L330 710 L290 710 L250 700 L200 690 L195 660 L215 640 L225 600 L250 570 L290 540 L330 525 L380 505 L395 480 L370 470 L330 470 L290 480 L240 480 L200 475 L140 470 L100 470 L50 470 L-5 470Z"/>
<path d="M625 -5 L956 -5 L956 130 L920 150 L870 145 L800 128 L740 118 L690 100 L660 70 L640 35Z"/>
<path d="M40 710 L90 695 L140 685 L180 700 L185 730 L160 745 L185 760 L180 785 L140 790 L100 775 L60 790 L25 770 L20 735Z"/>
<path d="M720 800 L750 770 L800 755 L850 755 L900 765 L956 780 L956 840 L730 840Z"/>
<path d="M930 640 L956 650 L956 680 L935 670Z" stroke="none"/>
<path d="M-5 580 L25 582 L22 600 L-5 600Z" stroke="none"/>
</g><g filter="url(#khc)" opacity="0.5"><g fill="none" stroke="#18b898" stroke-opacity="0.9" stroke-width="13" stroke-linecap="round" stroke-linejoin="round">
<path d="M365 10 L375 60 L385 120"/><path d="M400 90 L420 130 L435 170"/><path d="M405 210 L415 250"/><path d="M370 520 L390 560 L410 585"/><path d="M540 400 L555 440"/><path d="M610 400 L615 440"/>
<path d="M650 70 L680 95"/><path d="M765 500 L770 540"/><path d="M870 610 L900 640 L930 660"/><path d="M800 740 L820 750"/><path d="M735 720 L740 760"/><path d="M440 930 L490 910"/>
</g>
<g fill="none" stroke="#18b898" stroke-opacity="0.6" stroke-width="13" stroke-linecap="round" stroke-linejoin="round">
<path d="M670 260 L720 265 L760 290 L780 330"/><path d="M130 440 L145 420"/><path d="M20 560 L50 545"/><path d="M280 780 L300 750 L330 740"/><path d="M15 220 L20 240"/><path d="M570 10 L600 30"/>
</g>
</g><path transform="scale(1 1.0173)" fill="none" stroke="#050a34" stroke-opacity="0.75" stroke-width="3.4" stroke-linejoin="round" d="M0 0 L135 0 L165 30 L195 65 L190 125 L185 170 L150 155 L115 140 L75 130 L45 110 L0 105Z M135 0 L318 0 L305 40 L280 65 L240 55 L200 75 L195 65 L165 30Z M200 75 L240 55 L280 65 L305 40 L318 0 L480 0 L480 100 L450 140 L420 150 L405 185 L440 200 L440 225 L410 265 L400 295 L350 310 L320 300 L315 265 L285 255 L280 235 L245 200 L210 175 L185 170 L190 125Z M410 185 L420 155 L450 140 L470 155 L470 200 L450 210 L440 200Z M0 105 L45 110 L75 130 L115 140 L150 155 L185 170 L210 175 L245 200 L280 235 L285 255 L275 295 L240 305 L220 280 L190 255 L150 240 L140 220 L100 200 L50 175 L0 175Z M210 175 L225 172 L236 198 L228 206 L216 196Z M245 202 L262 200 L280 222 L276 240 L258 232Z M0 175 L50 175 L100 200 L140 220 L150 240 L190 255 L220 280 L240 305 L235 325 L190 340 L160 355 L140 385 L130 420 L100 445 L0 460Z M240 325 L275 295 L285 255 L315 265 L320 300 L325 320 L310 345 L305 380 L285 390 L270 360 L260 340Z M130 420 L140 385 L160 355 L190 340 L235 325 L260 340 L270 360 L250 380 L200 405 L150 420Z M135 435 L150 420 L200 405 L250 380 L270 360 L285 390 L305 380 L340 395 L350 405 L345 430 L320 445 L240 448 L200 440 L150 445Z M310 345 L325 320 L350 310 L400 295 L410 310 L385 330 L395 360 L420 390 L430 420 L420 440 L395 450 L345 430 L350 405 L340 395 L305 380Z M480 0 L545 0 L565 60 L580 100 L583 150 L565 175 L545 200 L550 230 L580 250 L620 260 L635 280 L640 325 L615 360 L585 380 L560 390 L540 360 L515 320 L490 290 L476 270 L440 225 L440 200 L450 210 L470 200 L470 155 L450 140 L480 100Z M545 0 L655 0 L660 50 L670 70 L670 130 L655 125 L645 100 L625 90 L580 85 L565 60Z M580 85 L625 90 L645 100 L655 125 L670 130 L690 145 L690 175 L675 200 L650 220 L655 250 L635 265 L620 260 L580 250 L550 230 L545 200 L565 175 L583 150 L580 100Z M655 0 L951 0 L951 115 L920 135 L895 125 L855 120 L820 110 L785 105 L755 115 L725 100 L705 85 L675 65 L670 70 L660 50Z M670 70 L675 65 L705 85 L725 100 L755 115 L785 105 L820 110 L855 120 L895 125 L920 135 L930 165 L945 200 L945 280 L920 300 L910 340 L900 375 L895 415 L870 430 L835 425 L800 415 L755 410 L715 410 L675 405 L635 415 L605 435 L565 450 L565 425 L560 390 L585 380 L615 360 L640 325 L635 280 L635 265 L655 250 L650 220 L675 200 L690 175 L690 145 L670 130Z M920 135 L951 115 L951 200 L945 200 L930 165Z M945 280 L951 280 L951 450 L925 450 L895 425 L900 375 L910 340 L920 300Z M870 430 L895 425 L925 450 L925 464 L880 464Z M440 225 L476 270 L490 290 L515 320 L540 360 L560 390 L565 425 L565 450 L560 464 L480 464 L450 463 L430 420 L420 390 L395 360 L385 330 L410 310 L400 295 L410 265Z M565 450 L605 435 L635 415 L675 405 L715 410 L755 410 L800 415 L835 425 L845 450 L880 464 L925 464 L951 450 L951 634 L925 614 L900 589 L855 574 L800 554 L775 539 L735 534 L710 514 L675 499 L625 484 L560 464Z M925 464 L951 464 L951 496 L936 490Z M0 446 L40 450 L100 445 L150 445 L200 440 L240 448 L320 445 L345 430 L395 450 L400 463 L390 466 L360 489 L310 499 L280 504 L175 514 L100 519 L50 529 L35 519 L0 522Z M0 514 L35 519 L50 529 L35 539 L30 574 L0 579Z M50 529 L100 519 L175 514 L280 504 L240 539 L210 549 L170 574 L160 604 L175 619 L210 594 L215 624 L195 639 L165 659 L130 659 L90 669 L50 679 L35 654 L0 629 L0 579 L30 574 L35 539Z M0 634 L35 654 L50 679 L30 704 L0 729Z M280 504 L310 499 L360 489 L390 466 L400 463 L450 463 L480 464 L560 464 L625 484 L675 499 L665 524 L640 559 L635 579 L585 579 L545 604 L505 624 L476 639 L476 659 L460 674 L425 654 L395 639 L370 664 L340 684 L295 686 L250 679 L230 674 L215 624 L210 594 L235 549 L240 539Z M170 574 L210 549 L235 549 L220 579 L190 609 L170 619 L160 604Z M195 639 L215 624 L230 674 L205 669 L192 654Z M675 499 L710 514 L735 534 L775 539 L790 559 L790 609 L775 634 L755 664 L735 689 L710 674 L690 659 L705 609 L685 609 L670 629 L655 594 L635 579 L640 559 L665 524Z M0 729 L30 704 L50 679 L90 669 L130 659 L165 664 L185 684 L185 704 L160 729 L150 759 L120 749 L85 739 L50 754 L30 769 L0 764Z M160 729 L192 729 L192 759 L175 764 L150 759Z M165 659 L195 639 L192 654 L205 669 L230 674 L250 679 L295 686 L335 689 L340 724 L345 764 L330 814 L305 864 L295 914 L295 927 L100 927 L130 879 L150 839 L170 789 L175 764 L192 759 L192 729 L160 729 L185 704 L185 684Z M0 764 L30 769 L50 754 L85 739 L120 749 L150 759 L175 764 L170 789 L150 839 L130 879 L100 927 L0 927Z M335 689 L340 684 L370 664 L395 639 L425 654 L460 674 L476 659 L476 639 L505 624 L545 604 L585 579 L635 579 L655 594 L670 629 L685 609 L705 609 L690 659 L675 679 L640 724 L645 759 L600 789 L550 829 L505 859 L476 866 L415 869 L350 889 L330 914 L295 914 L305 864 L330 814 L345 764 L340 724Z M335 904 L350 889 L415 869 L476 864 L476 894 L425 904 L360 914Z M790 559 L800 554 L855 574 L900 589 L925 614 L951 634 L951 754 L900 739 L850 724 L825 709 L815 679 L800 659 L775 634 L790 609Z M735 689 L755 664 L775 634 L800 659 L815 679 L825 709 L795 729 L775 714Z M640 724 L675 679 L690 659 L710 674 L735 689 L775 714 L770 734 L735 764 L705 794 L675 814 L620 820 L600 789 L645 759Z M675 814 L705 794 L735 764 L770 734 L795 729 L825 709 L850 724 L900 739 L951 754 L951 927 L620 927 L620 820Z M476 869 L505 859 L550 829 L600 789 L620 814 L620 844 L575 864 L525 904 L505 927 L310 927 L360 914 L425 904 L476 894Z M525 904 L575 864 L620 844 L620 927 L505 927Z"/><g fill="none" stroke="#34e858" stroke-opacity="0.9" stroke-width="4.5" stroke-linecap="round" stroke-linejoin="round">
<path d="M365 10 L375 60 L385 120"/><path d="M400 90 L420 130 L435 170"/><path d="M405 210 L415 250"/><path d="M370 520 L390 560 L410 585"/><path d="M540 400 L555 440"/><path d="M610 400 L615 440"/>
<path d="M650 70 L680 95"/><path d="M765 500 L770 540"/><path d="M870 610 L900 640 L930 660"/><path d="M800 740 L820 750"/><path d="M735 720 L740 760"/><path d="M440 930 L490 910"/>
</g>
<g fill="none" stroke="#28c870" stroke-opacity="0.6" stroke-width="4" stroke-linecap="round" stroke-linejoin="round">
<path d="M670 260 L720 265 L760 290 L780 330"/><path d="M130 440 L145 420"/><path d="M20 560 L50 545"/><path d="M280 780 L300 750 L330 740"/><path d="M15 220 L20 240"/><path d="M570 10 L600 30"/>
</g>
</g></g></svg></div>
<svg class="ov" width="951" height="1017" viewBox="0 0 951 1017"><path fill="#fff" d="M87.5 119.8 L101.9 111.39999999999999 V117.0 H121 V122.6 H101.9 V128.2 Z M139.7 117.0 H163.4 V122.6 H139.7 Z M181.8 117.0 H205.8 V122.6 H181.8 Z M224.3 117.0 H248.6 V122.6 H224.3 Z M266.7 117.0 H291.1 V122.6 H266.7 Z M324.0 119.8 L307.1 111.39999999999999 V128.2 Z"/><path fill="#fff" d="M327.9 121.6 L342.29999999999995 113.19999999999999 V118.8 H361.5 V124.39999999999999 H342.29999999999995 V130.0 Z M380 118.8 H404.5 V124.39999999999999 H380 Z M422.5 118.8 H446.8 V124.39999999999999 H422.5 Z M465 118.8 H488.8 V124.39999999999999 H465 Z M507.7 118.8 H531.4 V124.39999999999999 H507.7 Z M565.4 121.6 L548.7 113.19999999999999 V130.0 Z"/><path fill="#fff" d="M567.9 129.3 L582.3 120.9 V126.50000000000001 H598.6 V132.10000000000002 H582.3 V137.70000000000002 Z M615.4 126.50000000000001 H639.4 V132.10000000000002 H615.4 Z M658.3 126.50000000000001 H681.6 V132.10000000000002 H658.3 Z M700.5 126.50000000000001 H724.5 V132.10000000000002 H700.5 Z M743 126.50000000000001 H767.4 V132.10000000000002 H743 Z M800.3 129.3 L783.5 120.9 V137.70000000000002 Z"/><path fill="#fff" d="M87.4 361.9 L101.80000000000001 353.5 V359.09999999999997 H122 V364.7 H101.80000000000001 V370.29999999999995 Z M142.2 359.09999999999997 H165.8 V364.7 H142.2 Z M184.3 359.09999999999997 H207.9 V364.7 H184.3 Z M226.4 359.09999999999997 H250 V364.7 H226.4 Z M268.4 359.09999999999997 H292.6 V364.7 H268.4 Z M326.6 361.9 L309.8 353.5 V370.29999999999995 Z"/><path fill="#fff" d="M327.4 362.9 L341.79999999999995 354.5 V360.09999999999997 H363 V365.7 H341.79999999999995 V371.29999999999995 Z M383.3 360.09999999999997 H406.8 V365.7 H383.3 Z M425 360.09999999999997 H449.5 V365.7 H425 Z M467.4 360.09999999999997 H491.6 V365.7 H467.4 Z M509.4 360.09999999999997 H533.7 V365.7 H509.4 Z M567.3 362.9 L550.5 354.5 V371.29999999999995 Z"/><path fill="#fff" d="M568.9 364.3 L583.3 355.90000000000003 V361.5 H602.9 V367.1 H583.3 V372.7 Z M622.6 361.5 H645.8 V367.1 H622.6 Z M665.5 361.5 H688.7 V367.1 H665.5 Z M707.3 361.5 H731.6 V367.1 H707.3 Z M750.6 361.5 H774.5 V367.1 H750.6 Z M807.4 364.3 L792.4 355.90000000000003 V372.7 Z"/><path fill="#fff" d="M86.9 600.2 L101.30000000000001 591.8000000000001 V597.4000000000001 H122 V603.0 H101.30000000000001 V608.6 Z M142.2 597.4000000000001 H165.8 V603.0 H142.2 Z M184.3 597.4000000000001 H207.9 V603.0 H184.3 Z M226.4 597.4000000000001 H250 V603.0 H226.4 Z M268.4 597.4000000000001 H292.6 V603.0 H268.4 Z M326.6 600.2 L309.8 591.8000000000001 V608.6 Z"/><path fill="#fff" d="M327.4 601.9 L341.79999999999995 593.5 V599.1 H363 V604.6999999999999 H341.79999999999995 V610.3 Z M383.3 599.1 H406.8 V604.6999999999999 H383.3 Z M425 599.1 H449.5 V604.6999999999999 H425 Z M467.4 599.1 H491.6 V604.6999999999999 H467.4 Z M509.4 599.1 H533.7 V604.6999999999999 H509.4 Z M567.3 601.9 L550.5 593.5 V610.3 Z"/><path fill="#fff" d="M568.9 603.2 L583.3 594.8000000000001 V600.4000000000001 H602.9 V606.0 H583.3 V611.6 Z M622.6 600.4000000000001 H645.8 V606.0 H622.6 Z M665.5 600.4000000000001 H688.7 V606.0 H665.5 Z M707.3 600.4000000000001 H731.6 V606.0 H707.3 Z M750.6 600.4000000000001 H774.5 V606.0 H750.6 Z M807.4 603.2 L792.4 594.8000000000001 V611.6 Z"/><text x="810" y="133.8" font-size="16" fill="#1a1a1a" font-family="'Liberation Serif','Noto Serif CJK SC',serif">连接界面</text><text x="810" y="370.2" font-size="16" fill="#1a1a1a" font-family="'Liberation Serif','Noto Serif CJK SC',serif">连接界面</text><text x="810" y="610.2" font-size="16" fill="#1a1a1a" font-family="'Liberation Serif','Noto Serif CJK SC',serif">连接界面</text><path d="M117.3 828.4 L237.2 738.4 A185 185 0 0 1 259.3 828.4 Z" fill="none" stroke="#222" stroke-opacity="0.55" stroke-width="0.9"/>
<rect x="327.4" y="738.6" width="124.6" height="30.4" fill="#0a2bd0" stroke="#1a2a7a" stroke-width="0.8"/><rect x="327.4" y="772.8" width="124.6" height="30.4" fill="#ffff14" stroke="#6b6b2a" stroke-width="0.8"/><rect x="327.4" y="807" width="124.6" height="30" fill="#ff0a0a" stroke="#7a1a1a" stroke-width="0.8"/><text x="454.8" y="760.3" font-size="15.8" fill="#1a1a1a" font-family="'Liberation Serif','Noto Serif CJK SC',serif">再结晶晶粒</text><text x="454.8" y="794.3" font-size="15.8" fill="#1a1a1a" font-family="'Liberation Serif','Noto Serif CJK SC',serif">亚结构</text><text x="454.8" y="828.4" font-size="15.8" fill="#1a1a1a" font-family="'Liberation Serif','Noto Serif CJK SC',serif">变形组织</text><defs><linearGradient id="cb" x1="0" x2="1" y1="0" y2="0">
<stop offset="0" stop-color="#1467c4"/><stop offset="0.1" stop-color="#1472b8"/><stop offset="0.22" stop-color="#12a060"/><stop offset="0.36" stop-color="#1ee01e"/>
<stop offset="0.5" stop-color="#6cf514"/><stop offset="0.62" stop-color="#c4fa10"/><stop offset="0.72" stop-color="#fcfc0c"/><stop offset="0.82" stop-color="#ffb010"/>
<stop offset="0.92" stop-color="#ff4a10"/><stop offset="1" stop-color="#ff1a0c"/></linearGradient></defs>
<rect x="616.2" y="752.4" width="156.6" height="38.8" fill="url(#cb)" stroke="#333" stroke-width="0.8"/></svg>
<div class="lb" style="left:90.5px;top:12px;width:29.5px;height:22px;line-height:22.4px">(a<sub>1</sub>)</div><div class="lb ss" style="left:329.8px;top:8.8px;width:29.6px;height:23.4px;line-height:25.0px">(b<sub>1</sub>)</div><div class="lb ss" style="left:571.4px;top:9.5px;width:29px;height:22.7px;line-height:24.3px">(c<sub>1</sub>)</div><div class="lb" style="left:90.7px;top:244.2px;width:29.4px;height:22px;line-height:22.4px">(a<sub>2</sub>)</div><div class="lb ss" style="left:330.1px;top:244.2px;width:28.4px;height:22.7px;line-height:24.3px">(b<sub>2</sub>)</div><div class="lb ss" style="left:572.6px;top:244.7px;width:27.4px;height:22.1px;line-height:23.7px">(c<sub>2</sub>)</div><div class="lb" style="left:90.3px;top:485.1px;width:29.8px;height:21.7px;line-height:22.1px">(a<sub>3</sub>)</div><div class="lb" style="left:329.8px;top:484.8px;width:29.6px;height:22px;line-height:22.4px">(b<sub>3</sub>)</div><div class="lb" style="left:571.4px;top:485px;width:29.2px;height:21.8px;line-height:22.2px">(c<sub>3</sub>)</div><div class="sb" style="left:242.4px;top:211.3px">20 &#956;m<i></i></div><div class="sb" style="left:242.4px;top:450.8px">20 &#956;m<i></i></div><div class="sb" style="left:242.4px;top:688.3px">20 &#956;m<i></i></div><div class="sb" style="left:483.3px;top:211.3px">20 &#956;m<i></i></div><div class="sb" style="left:483.3px;top:450.8px">20 &#956;m<i></i></div><div class="sb" style="left:483.3px;top:688.3px">20 &#956;m<i></i></div><div class="sb" style="left:725.0px;top:211.3px">20 &#956;m<i></i></div><div class="sb" style="left:725.0px;top:450.8px">20 &#956;m<i></i></div><div class="sb" style="left:725.0px;top:688.3px">20 &#956;m<i></i></div>
<div style="position:absolute;left:110px;top:732px;width:160px;height:104px;clip-path:path('M7.3 96.4 L127.2 6.4 A185 185 0 0 1 149.3 96.4 Z');background:radial-gradient(circle at 94.5px 66px,rgba(255,255,255,1) 0,rgba(255,255,255,.8) 7px,rgba(255,255,255,.45) 18px,rgba(255,255,255,.18) 32px,rgba(255,255,255,0) 52px),conic-gradient(from 28.75deg at 94.5px 66px,#1414ff 0deg,#10e8ff 42.6deg,#14f01e 90.2deg,#f6f610 179.3deg,#ff1414 222deg,#ff14f0 269.4deg,#1414ff 360deg)"></div><div class="t" style="left:217.9px;top:721.5px;font-size:15px;line-height:17px">&lt;111&gt;</div><div class="t" style="left:99.5px;top:829.8px;font-size:15px;line-height:17px">&lt;001&gt;</div><div class="t" style="left:237.2px;top:829.8px;font-size:15px;line-height:17px">&lt;101&gt;</div><div class="t" style="left:585.8px;top:743.5px;font-size:16px;line-height:17px">min</div><div class="t" style="left:595.8px;top:764px;font-size:16px;line-height:17px">0&#176;</div><div class="t" style="left:777.7px;top:743.5px;font-size:16px;line-height:17px">max</div><div class="t" style="left:777.7px;top:764px;font-size:16px;line-height:17px">5&#176;</div><svg class="ov" width="951" height="1017" viewBox="0 0 951 1017" style="font-family:'Liberation Serif',serif" fill="#2a2a2a"><text x="15.8" y="890.4" font-size="20" letter-spacing="0.75">IPF</text><text x="50.1" y="890.4" font-size="20">(</text><text x="59.1" y="890.4" font-size="20" font-style="italic">z</text><text x="72.4" y="890.4" font-size="20">)</text><text x="81.4" y="890.4" font-size="19" font-family="'Liberation Serif','Noto Serif CJK SC',serif">图</text><circle cx="107.1" cy="885.6" r="1.45"/><circle cx="107.1" cy="890.0" r="1.45"/><text x="114.6" y="890.4" font-size="20">(</text><text x="123.3" y="890.4" font-size="20">a</text><text x="133.6" y="896.6" font-size="12.5">1</text><text x="145.0" y="890.4" font-size="20">)</text><text x="152.6" y="890.4" font-size="20" letter-spacing="0.40">980</text><circle cx="194.3" cy="880.0" r="2.1" fill="none" stroke="#2a2a2a" stroke-width="1"/><text x="197.2" y="890.4" font-size="20">C</text><text x="217.6" y="890.4" font-size="22" font-weight="bold">,</text><text x="226.0" y="890.4" font-size="20">(</text><text x="234.2" y="890.4" font-size="20">b</text><text x="245.6" y="896.6" font-size="12.5">1</text><text x="256.2" y="890.4" font-size="20">)</text><text x="267.6" y="890.4" font-size="20">1</text><text x="283.6" y="890.4" font-size="20" letter-spacing="0.80">000</text><circle cx="326.7" cy="880.0" r="2.1" fill="none" stroke="#2a2a2a" stroke-width="1"/><text x="329.6" y="890.4" font-size="20">C</text><text x="349.2" y="890.4" font-size="22" font-weight="bold">,</text><text x="357.4" y="890.4" font-size="20">(</text><text x="366.4" y="890.4" font-size="20">c</text><text x="376.4" y="896.6" font-size="12.5">1</text><text x="386.0" y="890.4" font-size="20">)</text><text x="396.8" y="890.4" font-size="20">1</text><text x="413.1" y="890.4" font-size="20" letter-spacing="0.65">020</text><circle cx="456.1" cy="880.0" r="2.1" fill="none" stroke="#2a2a2a" stroke-width="1"/><text x="459.0" y="890.4" font-size="20">C</text><text x="476.0" y="890.4" font-size="20" font-weight="bold">;</text><text x="482.5" y="890.4" font-size="19" letter-spacing="2.7" font-family="'Liberation Serif','Noto Serif CJK SC',serif">再结晶图</text><circle cx="571.4" cy="885.6" r="1.45"/><circle cx="571.4" cy="890.0" r="1.45"/><text x="578.4" y="890.4" font-size="20">(</text><text x="586.8" y="890.4" font-size="20">a</text><text x="597.4" y="896.6" font-size="12.5">2</text><text x="608.2" y="890.4" font-size="20">)</text><text x="615.4" y="890.4" font-size="20" letter-spacing="0.70">980</text><circle cx="658.9" cy="880.0" r="2.1" fill="none" stroke="#2a2a2a" stroke-width="1"/><text x="661.8" y="890.4" font-size="20">C</text><text x="681.7" y="890.4" font-size="22" font-weight="bold">,</text><text x="690.0" y="890.4" font-size="20">(</text><text x="698.6" y="890.4" font-size="20">b</text><text x="710.6" y="896.6" font-size="12.5">2</text><text x="722.2" y="890.4" font-size="20">)</text><text x="732.5" y="890.4" font-size="20">1</text><text x="749.0" y="890.4" font-size="20" letter-spacing="0.75">000</text><circle cx="792.6" cy="880.0" r="2.1" fill="none" stroke="#2a2a2a" stroke-width="1"/><text x="795.5" y="890.4" font-size="20">C</text><text x="814.2" y="890.4" font-size="22" font-weight="bold">,</text><text x="822.4" y="890.4" font-size="20">(</text><text x="830.8" y="890.4" font-size="20">c</text><text x="841.2" y="896.6" font-size="12.5">2</text><text x="852.4" y="890.4" font-size="20">)</text><text x="862.6" y="890.4" font-size="20">1</text><text x="878.3" y="890.4" font-size="20" letter-spacing="0.75">020</text><circle cx="921.4" cy="880.0" r="2.1" fill="none" stroke="#2a2a2a" stroke-width="1"/><text x="924.3" y="890.4" font-size="20">C</text><text x="941.5" y="890.4" font-size="20" font-weight="bold">;</text><text x="258.8" y="925.4" font-size="20" letter-spacing="1.52">KAM</text><text x="313.1" y="925.4" font-size="19" font-family="'Liberation Serif','Noto Serif CJK SC',serif">图</text><circle cx="339.5" cy="920.6" r="1.45"/><circle cx="339.5" cy="925.0" r="1.45"/><text x="346.4" y="925.4" font-size="20">(</text><text x="354.9" y="925.4" font-size="20">a</text><text x="366.1" y="931.6" font-size="12.5">3</text><text x="376.4" y="925.4" font-size="20">)</text><text x="383.5" y="925.4" font-size="20" letter-spacing="0.90">980</text><circle cx="427.0" cy="915.0" r="2.1" fill="none" stroke="#2a2a2a" stroke-width="1"/><text x="429.9" y="925.4" font-size="20">C</text><text x="449.6" y="925.4" font-size="22" font-weight="bold">,</text><text x="457.9" y="925.4" font-size="20">(</text><text x="466.5" y="925.4" font-size="20">b</text><text x="478.4" y="931.6" font-size="12.5">3</text><text x="489.4" y="925.4" font-size="20">)</text><text x="500.0" y="925.4" font-size="20">1</text><text x="515.5" y="925.4" font-size="20" letter-spacing="0.70">000</text><circle cx="558.1" cy="915.0" r="2.1" fill="none" stroke="#2a2a2a" stroke-width="1"/><text x="561.0" y="925.4" font-size="20">C</text><text x="579.9" y="925.4" font-size="22" font-weight="bold">,</text><text x="588.3" y="925.4" font-size="20">(</text><text x="596.8" y="925.4" font-size="20">c</text><text x="606.7" y="931.6" font-size="12.5">3</text><text x="617.0" y="925.4" font-size="20">)</text><text x="626.7" y="925.4" font-size="20">1</text><text x="643.0" y="925.4" font-size="20" letter-spacing="0.65">020</text><circle cx="685.6" cy="915.0" r="2.1" fill="none" stroke="#2a2a2a" stroke-width="1"/><text x="688.5" y="925.4" font-size="20">C</text><g fill="#111"><text x="227.7" y="963.9" font-size="20" font-weight="bold" font-family="'Liberation Sans','Noto Sans CJK SC',sans-serif">图</text><text x="256.8" y="963.9" font-size="20" font-weight="bold">4</text><text x="293.8" y="963.9" font-size="20" font-weight="bold" letter-spacing="4.3" font-family="'Liberation Sans','Noto Sans CJK SC',sans-serif">不同温度扩散连接</text><text x="495.2" y="963.9" font-size="20" font-weight="bold" letter-spacing="0.05">Ti60</text><text x="543.9" y="963.9" font-size="20" font-weight="bold" letter-spacing="4.2" font-family="'Liberation Sans','Noto Sans CJK SC',sans-serif">钛合金的微观组织</text></g><text x="34.6" y="1001.7" font-size="22" letter-spacing="0.38">Fig.</text><text x="79.3" y="1001.7" font-size="22">4</text><text x="115.4" y="1001.7" font-size="22" letter-spacing="1.23">Microstructure</text><text x="271.4" y="1001.7" font-size="22" letter-spacing="0.45">of</text><text x="300.4" y="1001.7" font-size="22" letter-spacing="0.87">Ti60</text><text x="355.9" y="1001.7" font-size="22" letter-spacing="0.88">titanium</text><text x="445.5" y="1001.7" font-size="22" letter-spacing="0.67">alloy</text><text x="503.2" y="1001.7" font-size="22" letter-spacing="0.86">diffusion-bonded</text><text x="676.8" y="1001.7" font-size="22" letter-spacing="-0.30">at</text><text x="703.8" y="1001.7" font-size="22" letter-spacing="0.77">different</text><text x="797.2" y="1001.7" font-size="22" letter-spacing="1.37">temperatures</text></svg>
</body></html>
